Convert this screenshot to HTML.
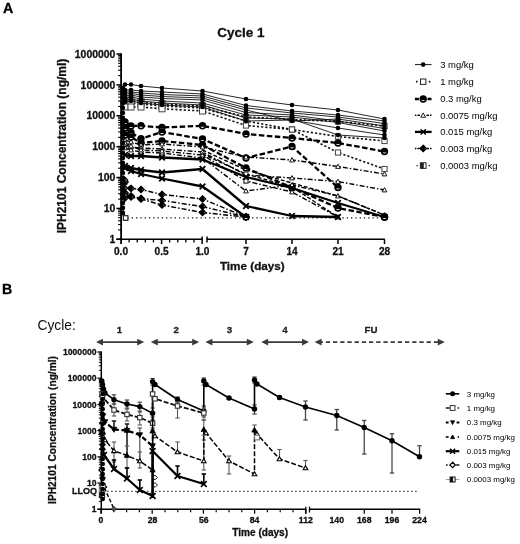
<!DOCTYPE html>
<html><head><meta charset="utf-8"><title>Figure</title><style>html,body{margin:0;padding:0;background:#fff}svg{display:block}</style></head><body>
<svg width="520" height="544" viewBox="0 0 520 544" font-family="Liberation Sans, Arial, Helvetica, sans-serif">
<rect width="520" height="544" fill="#fff"/>
<text x="2.9" y="13" font-size="14.2" font-weight="bold" text-anchor="start" fill="#000"  stroke="#000" stroke-width="0.3" stroke-linejoin="round">A</text>
<text x="241" y="36.8" font-size="13.5" font-weight="bold" text-anchor="middle" fill="#111"  stroke="#111" stroke-width="0.3" stroke-linejoin="round">Cycle 1</text>
<line x1="121.10" y1="53.30" x2="121.10" y2="243.90" stroke="#000" stroke-width="1.8" stroke-linecap="butt"/>
<line x1="116.40" y1="54.00" x2="121.10" y2="54.00" stroke="#000" stroke-width="1.5" stroke-linecap="butt"/>
<text x="115.3" y="57.7" font-size="10.4" font-weight="bold" text-anchor="end" fill="#111"  stroke="#111" stroke-width="0.3" stroke-linejoin="round">1000000</text>
<line x1="118.10" y1="75.59" x2="121.10" y2="75.59" stroke="#000" stroke-width="1.1" stroke-linecap="butt"/>
<line x1="118.10" y1="70.15" x2="121.10" y2="70.15" stroke="#000" stroke-width="1.1" stroke-linecap="butt"/>
<line x1="118.10" y1="66.29" x2="121.10" y2="66.29" stroke="#000" stroke-width="1.1" stroke-linecap="butt"/>
<line x1="118.10" y1="63.30" x2="121.10" y2="63.30" stroke="#000" stroke-width="1.1" stroke-linecap="butt"/>
<line x1="118.10" y1="60.85" x2="121.10" y2="60.85" stroke="#000" stroke-width="1.1" stroke-linecap="butt"/>
<line x1="118.10" y1="58.78" x2="121.10" y2="58.78" stroke="#000" stroke-width="1.1" stroke-linecap="butt"/>
<line x1="118.10" y1="56.99" x2="121.10" y2="56.99" stroke="#000" stroke-width="1.1" stroke-linecap="butt"/>
<line x1="118.10" y1="55.41" x2="121.10" y2="55.41" stroke="#000" stroke-width="1.1" stroke-linecap="butt"/>
<line x1="116.40" y1="84.88" x2="121.10" y2="84.88" stroke="#000" stroke-width="1.5" stroke-linecap="butt"/>
<text x="115.3" y="88.58333333333334" font-size="10.4" font-weight="bold" text-anchor="end" fill="#111"  stroke="#111" stroke-width="0.3" stroke-linejoin="round">100000</text>
<line x1="118.10" y1="106.47" x2="121.10" y2="106.47" stroke="#000" stroke-width="1.1" stroke-linecap="butt"/>
<line x1="118.10" y1="101.03" x2="121.10" y2="101.03" stroke="#000" stroke-width="1.1" stroke-linecap="butt"/>
<line x1="118.10" y1="97.17" x2="121.10" y2="97.17" stroke="#000" stroke-width="1.1" stroke-linecap="butt"/>
<line x1="118.10" y1="94.18" x2="121.10" y2="94.18" stroke="#000" stroke-width="1.1" stroke-linecap="butt"/>
<line x1="118.10" y1="91.73" x2="121.10" y2="91.73" stroke="#000" stroke-width="1.1" stroke-linecap="butt"/>
<line x1="118.10" y1="89.67" x2="121.10" y2="89.67" stroke="#000" stroke-width="1.1" stroke-linecap="butt"/>
<line x1="118.10" y1="87.88" x2="121.10" y2="87.88" stroke="#000" stroke-width="1.1" stroke-linecap="butt"/>
<line x1="118.10" y1="86.30" x2="121.10" y2="86.30" stroke="#000" stroke-width="1.1" stroke-linecap="butt"/>
<line x1="116.40" y1="115.77" x2="121.10" y2="115.77" stroke="#000" stroke-width="1.5" stroke-linecap="butt"/>
<text x="115.3" y="119.46666666666668" font-size="10.4" font-weight="bold" text-anchor="end" fill="#111"  stroke="#111" stroke-width="0.3" stroke-linejoin="round">10000</text>
<line x1="118.10" y1="137.35" x2="121.10" y2="137.35" stroke="#000" stroke-width="1.1" stroke-linecap="butt"/>
<line x1="118.10" y1="131.91" x2="121.10" y2="131.91" stroke="#000" stroke-width="1.1" stroke-linecap="butt"/>
<line x1="118.10" y1="128.06" x2="121.10" y2="128.06" stroke="#000" stroke-width="1.1" stroke-linecap="butt"/>
<line x1="118.10" y1="125.06" x2="121.10" y2="125.06" stroke="#000" stroke-width="1.1" stroke-linecap="butt"/>
<line x1="118.10" y1="122.62" x2="121.10" y2="122.62" stroke="#000" stroke-width="1.1" stroke-linecap="butt"/>
<line x1="118.10" y1="120.55" x2="121.10" y2="120.55" stroke="#000" stroke-width="1.1" stroke-linecap="butt"/>
<line x1="118.10" y1="118.76" x2="121.10" y2="118.76" stroke="#000" stroke-width="1.1" stroke-linecap="butt"/>
<line x1="118.10" y1="117.18" x2="121.10" y2="117.18" stroke="#000" stroke-width="1.1" stroke-linecap="butt"/>
<line x1="116.40" y1="146.65" x2="121.10" y2="146.65" stroke="#000" stroke-width="1.5" stroke-linecap="butt"/>
<text x="115.3" y="150.35" font-size="10.4" font-weight="bold" text-anchor="end" fill="#111"  stroke="#111" stroke-width="0.3" stroke-linejoin="round">1000</text>
<line x1="118.10" y1="168.24" x2="121.10" y2="168.24" stroke="#000" stroke-width="1.1" stroke-linecap="butt"/>
<line x1="118.10" y1="162.80" x2="121.10" y2="162.80" stroke="#000" stroke-width="1.1" stroke-linecap="butt"/>
<line x1="118.10" y1="158.94" x2="121.10" y2="158.94" stroke="#000" stroke-width="1.1" stroke-linecap="butt"/>
<line x1="118.10" y1="155.95" x2="121.10" y2="155.95" stroke="#000" stroke-width="1.1" stroke-linecap="butt"/>
<line x1="118.10" y1="153.50" x2="121.10" y2="153.50" stroke="#000" stroke-width="1.1" stroke-linecap="butt"/>
<line x1="118.10" y1="151.43" x2="121.10" y2="151.43" stroke="#000" stroke-width="1.1" stroke-linecap="butt"/>
<line x1="118.10" y1="149.64" x2="121.10" y2="149.64" stroke="#000" stroke-width="1.1" stroke-linecap="butt"/>
<line x1="118.10" y1="148.06" x2="121.10" y2="148.06" stroke="#000" stroke-width="1.1" stroke-linecap="butt"/>
<line x1="116.40" y1="177.53" x2="121.10" y2="177.53" stroke="#000" stroke-width="1.5" stroke-linecap="butt"/>
<text x="115.3" y="181.23333333333335" font-size="10.4" font-weight="bold" text-anchor="end" fill="#111"  stroke="#111" stroke-width="0.3" stroke-linejoin="round">100</text>
<line x1="118.10" y1="199.12" x2="121.10" y2="199.12" stroke="#000" stroke-width="1.1" stroke-linecap="butt"/>
<line x1="118.10" y1="193.68" x2="121.10" y2="193.68" stroke="#000" stroke-width="1.1" stroke-linecap="butt"/>
<line x1="118.10" y1="189.82" x2="121.10" y2="189.82" stroke="#000" stroke-width="1.1" stroke-linecap="butt"/>
<line x1="118.10" y1="186.83" x2="121.10" y2="186.83" stroke="#000" stroke-width="1.1" stroke-linecap="butt"/>
<line x1="118.10" y1="184.38" x2="121.10" y2="184.38" stroke="#000" stroke-width="1.1" stroke-linecap="butt"/>
<line x1="118.10" y1="182.32" x2="121.10" y2="182.32" stroke="#000" stroke-width="1.1" stroke-linecap="butt"/>
<line x1="118.10" y1="180.53" x2="121.10" y2="180.53" stroke="#000" stroke-width="1.1" stroke-linecap="butt"/>
<line x1="118.10" y1="178.95" x2="121.10" y2="178.95" stroke="#000" stroke-width="1.1" stroke-linecap="butt"/>
<line x1="116.40" y1="208.42" x2="121.10" y2="208.42" stroke="#000" stroke-width="1.5" stroke-linecap="butt"/>
<text x="115.3" y="212.11666666666667" font-size="10.4" font-weight="bold" text-anchor="end" fill="#111"  stroke="#111" stroke-width="0.3" stroke-linejoin="round">10</text>
<line x1="118.10" y1="230.00" x2="121.10" y2="230.00" stroke="#000" stroke-width="1.1" stroke-linecap="butt"/>
<line x1="118.10" y1="224.56" x2="121.10" y2="224.56" stroke="#000" stroke-width="1.1" stroke-linecap="butt"/>
<line x1="118.10" y1="220.71" x2="121.10" y2="220.71" stroke="#000" stroke-width="1.1" stroke-linecap="butt"/>
<line x1="118.10" y1="217.71" x2="121.10" y2="217.71" stroke="#000" stroke-width="1.1" stroke-linecap="butt"/>
<line x1="118.10" y1="215.27" x2="121.10" y2="215.27" stroke="#000" stroke-width="1.1" stroke-linecap="butt"/>
<line x1="118.10" y1="213.20" x2="121.10" y2="213.20" stroke="#000" stroke-width="1.1" stroke-linecap="butt"/>
<line x1="118.10" y1="211.41" x2="121.10" y2="211.41" stroke="#000" stroke-width="1.1" stroke-linecap="butt"/>
<line x1="118.10" y1="209.83" x2="121.10" y2="209.83" stroke="#000" stroke-width="1.1" stroke-linecap="butt"/>
<line x1="116.40" y1="239.30" x2="121.10" y2="239.30" stroke="#000" stroke-width="1.5" stroke-linecap="butt"/>
<text x="115.3" y="243.0" font-size="10.4" font-weight="bold" text-anchor="end" fill="#111"  stroke="#111" stroke-width="0.3" stroke-linejoin="round">1</text>
<text transform="translate(66,146) rotate(-90)" font-size="12" font-weight="bold" text-anchor="middle" fill="#111" stroke="#111" stroke-width="0.3">IPH2101 Concentration (ng/ml)</text>
<line x1="116.40" y1="239.30" x2="202.10" y2="239.30" stroke="#000" stroke-width="1.6" stroke-linecap="butt"/>
<line x1="207.00" y1="239.30" x2="384.90" y2="239.30" stroke="#000" stroke-width="1.6" stroke-linecap="butt"/>
<line x1="202.10" y1="236.50" x2="202.10" y2="243.90" stroke="#000" stroke-width="1.5" stroke-linecap="butt"/>
<line x1="207.00" y1="236.50" x2="207.00" y2="242.50" stroke="#000" stroke-width="1.5" stroke-linecap="butt"/>
<line x1="129.11" y1="239.30" x2="129.11" y2="242.40" stroke="#000" stroke-width="1.3" stroke-linecap="butt"/>
<line x1="137.22" y1="239.30" x2="137.22" y2="242.40" stroke="#000" stroke-width="1.3" stroke-linecap="butt"/>
<line x1="145.33" y1="239.30" x2="145.33" y2="242.40" stroke="#000" stroke-width="1.3" stroke-linecap="butt"/>
<line x1="153.44" y1="239.30" x2="153.44" y2="242.40" stroke="#000" stroke-width="1.3" stroke-linecap="butt"/>
<line x1="161.55" y1="239.30" x2="161.55" y2="244.10" stroke="#000" stroke-width="1.5" stroke-linecap="butt"/>
<line x1="169.66" y1="239.30" x2="169.66" y2="242.40" stroke="#000" stroke-width="1.3" stroke-linecap="butt"/>
<line x1="177.77" y1="239.30" x2="177.77" y2="242.40" stroke="#000" stroke-width="1.3" stroke-linecap="butt"/>
<line x1="185.88" y1="239.30" x2="185.88" y2="242.40" stroke="#000" stroke-width="1.3" stroke-linecap="butt"/>
<line x1="193.99" y1="239.30" x2="193.99" y2="242.40" stroke="#000" stroke-width="1.3" stroke-linecap="butt"/>
<line x1="246.00" y1="239.30" x2="246.00" y2="244.10" stroke="#000" stroke-width="1.5" stroke-linecap="butt"/>
<line x1="292.00" y1="239.30" x2="292.00" y2="244.10" stroke="#000" stroke-width="1.5" stroke-linecap="butt"/>
<line x1="338.00" y1="239.30" x2="338.00" y2="244.10" stroke="#000" stroke-width="1.5" stroke-linecap="butt"/>
<line x1="384.50" y1="239.30" x2="384.50" y2="244.10" stroke="#000" stroke-width="1.5" stroke-linecap="butt"/>
<text x="121" y="255" font-size="10.1" font-weight="bold" text-anchor="middle" fill="#111"  stroke="#111" stroke-width="0.3" stroke-linejoin="round">0.0</text>
<text x="161.6" y="255" font-size="10.1" font-weight="bold" text-anchor="middle" fill="#111"  stroke="#111" stroke-width="0.3" stroke-linejoin="round">0.5</text>
<text x="202.4" y="255" font-size="10.1" font-weight="bold" text-anchor="middle" fill="#111"  stroke="#111" stroke-width="0.3" stroke-linejoin="round">1.0</text>
<text x="246" y="255" font-size="10.1" font-weight="bold" text-anchor="middle" fill="#111"  stroke="#111" stroke-width="0.3" stroke-linejoin="round">7</text>
<text x="292" y="255" font-size="10.1" font-weight="bold" text-anchor="middle" fill="#111"  stroke="#111" stroke-width="0.3" stroke-linejoin="round">14</text>
<text x="338" y="255" font-size="10.1" font-weight="bold" text-anchor="middle" fill="#111"  stroke="#111" stroke-width="0.3" stroke-linejoin="round">21</text>
<text x="384.5" y="255" font-size="10.1" font-weight="bold" text-anchor="middle" fill="#111"  stroke="#111" stroke-width="0.3" stroke-linejoin="round">28</text>
<text x="252.3" y="270.3" font-size="11.7" font-weight="bold" text-anchor="middle" fill="#111"  stroke="#111" stroke-width="0.3" stroke-linejoin="round">Time (days)</text>
<line x1="123.10" y1="217.80" x2="384.00" y2="217.80" stroke="#111" stroke-width="1.3" stroke-dasharray="1.3 3" stroke-linecap="butt"/>
<polyline points="125.0,101.0 131.0,100.0 141.0,102.0 162.0,104.0 202.5,106.0 246.0,117.0 292.0,119.5 338.0,121.5 384.5,126.0" fill="none" stroke="#111" stroke-width="1.6" stroke-dasharray="2.2 2" stroke-linejoin="round"/>
<polyline points="125.0,104.0 131.0,103.0 141.0,104.0 162.0,106.0 202.5,108.0 246.0,121.0 292.0,129.5 338.0,136.5 384.5,141.0" fill="none" stroke="#111" stroke-width="1.6" stroke-dasharray="2.2 2" stroke-linejoin="round"/>
<polyline points="125.0,107.0 131.0,107.0 141.0,107.0 162.0,108.8 202.5,111.0 246.0,125.5 292.0,129.5 338.0,152.5 384.5,169.0" fill="none" stroke="#111" stroke-width="1.6" stroke-dasharray="2.2 2" stroke-linejoin="round"/>
<rect x="122.0" y="98.0" width="6" height="6" fill="#fff" stroke="#444" stroke-width="1"/>
<rect x="128.0" y="97.0" width="6" height="6" fill="#fff" stroke="#444" stroke-width="1"/>
<rect x="138.0" y="99.0" width="6" height="6" fill="#fff" stroke="#444" stroke-width="1"/>
<rect x="159.0" y="101.0" width="6" height="6" fill="#fff" stroke="#444" stroke-width="1"/>
<rect x="199.5" y="103.0" width="6" height="6" fill="#fff" stroke="#444" stroke-width="1"/>
<rect x="243.4" y="114.4" width="5.2" height="5.2" fill="#fff" stroke="#444" stroke-width="1"/>
<rect x="289.4" y="116.9" width="5.2" height="5.2" fill="#fff" stroke="#444" stroke-width="1"/>
<rect x="335.4" y="118.9" width="5.2" height="5.2" fill="#fff" stroke="#444" stroke-width="1"/>
<rect x="381.9" y="123.4" width="5.2" height="5.2" fill="#fff" stroke="#444" stroke-width="1"/>
<rect x="122.0" y="101.0" width="6" height="6" fill="#fff" stroke="#444" stroke-width="1"/>
<rect x="128.0" y="100.0" width="6" height="6" fill="#fff" stroke="#444" stroke-width="1"/>
<rect x="138.0" y="101.0" width="6" height="6" fill="#fff" stroke="#444" stroke-width="1"/>
<rect x="159.0" y="103.0" width="6" height="6" fill="#fff" stroke="#444" stroke-width="1"/>
<rect x="199.5" y="105.0" width="6" height="6" fill="#fff" stroke="#444" stroke-width="1"/>
<rect x="243.4" y="118.4" width="5.2" height="5.2" fill="#fff" stroke="#444" stroke-width="1"/>
<rect x="289.4" y="126.9" width="5.2" height="5.2" fill="#fff" stroke="#444" stroke-width="1"/>
<rect x="335.4" y="133.9" width="5.2" height="5.2" fill="#fff" stroke="#444" stroke-width="1"/>
<rect x="381.9" y="138.4" width="5.2" height="5.2" fill="#fff" stroke="#444" stroke-width="1"/>
<rect x="122.0" y="104.0" width="6" height="6" fill="#fff" stroke="#444" stroke-width="1"/>
<rect x="128.0" y="104.0" width="6" height="6" fill="#fff" stroke="#444" stroke-width="1"/>
<rect x="138.0" y="104.0" width="6" height="6" fill="#fff" stroke="#444" stroke-width="1"/>
<rect x="159.0" y="105.8" width="6" height="6" fill="#fff" stroke="#444" stroke-width="1"/>
<rect x="199.5" y="108.0" width="6" height="6" fill="#fff" stroke="#444" stroke-width="1"/>
<rect x="243.4" y="122.9" width="5.2" height="5.2" fill="#fff" stroke="#444" stroke-width="1"/>
<rect x="289.4" y="126.9" width="5.2" height="5.2" fill="#fff" stroke="#444" stroke-width="1"/>
<rect x="335.4" y="149.9" width="5.2" height="5.2" fill="#fff" stroke="#444" stroke-width="1"/>
<rect x="381.9" y="166.4" width="5.2" height="5.2" fill="#fff" stroke="#444" stroke-width="1"/>
<polyline points="121.5,92.5 125.0,84.5 131.0,84.5 141.0,86.0 162.0,88.0 202.5,91.0 246.0,99.0 292.0,105.0 338.0,110.0 384.5,119.0" fill="none" stroke="#111" stroke-width="0.9" stroke-linejoin="round"/>
<circle cx="125.0" cy="84.5" r="2.3" fill="#000"/>
<circle cx="131.0" cy="84.5" r="2.3" fill="#000"/>
<circle cx="141.0" cy="86.0" r="2.3" fill="#000"/>
<circle cx="162.0" cy="88.0" r="2.3" fill="#000"/>
<circle cx="202.5" cy="91.0" r="2.3" fill="#000"/>
<circle cx="246.0" cy="99.0" r="2.3" fill="#000"/>
<circle cx="292.0" cy="105.0" r="2.3" fill="#000"/>
<circle cx="338.0" cy="110.0" r="2.3" fill="#000"/>
<circle cx="384.5" cy="119.0" r="2.3" fill="#000"/>
<polyline points="121.5,98.0 125.0,90.0 131.0,90.0 141.0,91.0 162.0,92.0 202.5,94.0 246.0,105.5 292.0,111.0 338.0,115.0 384.5,121.0" fill="none" stroke="#111" stroke-width="0.9" stroke-linejoin="round"/>
<circle cx="125.0" cy="90.0" r="2.3" fill="#000"/>
<circle cx="131.0" cy="90.0" r="2.3" fill="#000"/>
<circle cx="141.0" cy="91.0" r="2.3" fill="#000"/>
<circle cx="162.0" cy="92.0" r="2.3" fill="#000"/>
<circle cx="202.5" cy="94.0" r="2.3" fill="#000"/>
<circle cx="246.0" cy="105.5" r="2.3" fill="#000"/>
<circle cx="292.0" cy="111.0" r="2.3" fill="#000"/>
<circle cx="338.0" cy="115.0" r="2.3" fill="#000"/>
<circle cx="384.5" cy="121.0" r="2.3" fill="#000"/>
<polyline points="121.5,100.0 125.0,92.0 131.0,92.0 141.0,93.0 162.0,94.5 202.5,96.0 246.0,108.0 292.0,113.0 338.0,117.0 384.5,123.5" fill="none" stroke="#111" stroke-width="0.9" stroke-linejoin="round"/>
<circle cx="125.0" cy="92.0" r="2.3" fill="#000"/>
<circle cx="131.0" cy="92.0" r="2.3" fill="#000"/>
<circle cx="141.0" cy="93.0" r="2.3" fill="#000"/>
<circle cx="162.0" cy="94.5" r="2.3" fill="#000"/>
<circle cx="202.5" cy="96.0" r="2.3" fill="#000"/>
<circle cx="246.0" cy="108.0" r="2.3" fill="#000"/>
<circle cx="292.0" cy="113.0" r="2.3" fill="#000"/>
<circle cx="338.0" cy="117.0" r="2.3" fill="#000"/>
<circle cx="384.5" cy="123.5" r="2.3" fill="#000"/>
<polyline points="121.5,102.0 125.0,94.0 131.0,93.5 141.0,95.0 162.0,96.5 202.5,98.0 246.0,110.0 292.0,121.0 338.0,119.0 384.5,126.0" fill="none" stroke="#111" stroke-width="0.9" stroke-linejoin="round"/>
<circle cx="125.0" cy="94.0" r="2.3" fill="#000"/>
<circle cx="131.0" cy="93.5" r="2.3" fill="#000"/>
<circle cx="141.0" cy="95.0" r="2.3" fill="#000"/>
<circle cx="162.0" cy="96.5" r="2.3" fill="#000"/>
<circle cx="202.5" cy="98.0" r="2.3" fill="#000"/>
<circle cx="246.0" cy="110.0" r="2.3" fill="#000"/>
<circle cx="292.0" cy="121.0" r="2.3" fill="#000"/>
<circle cx="338.0" cy="119.0" r="2.3" fill="#000"/>
<circle cx="384.5" cy="126.0" r="2.3" fill="#000"/>
<polyline points="121.5,104.0 125.0,96.0 131.0,95.0 141.0,97.0 162.0,98.5 202.5,100.0 246.0,112.5 292.0,115.0 338.0,121.0 384.5,128.5" fill="none" stroke="#111" stroke-width="0.9" stroke-linejoin="round"/>
<circle cx="125.0" cy="96.0" r="2.3" fill="#000"/>
<circle cx="131.0" cy="95.0" r="2.3" fill="#000"/>
<circle cx="141.0" cy="97.0" r="2.3" fill="#000"/>
<circle cx="162.0" cy="98.5" r="2.3" fill="#000"/>
<circle cx="202.5" cy="100.0" r="2.3" fill="#000"/>
<circle cx="246.0" cy="112.5" r="2.3" fill="#000"/>
<circle cx="292.0" cy="115.0" r="2.3" fill="#000"/>
<circle cx="338.0" cy="121.0" r="2.3" fill="#000"/>
<circle cx="384.5" cy="128.5" r="2.3" fill="#000"/>
<polyline points="121.5,106.0 125.0,98.0 131.0,97.0 141.0,99.0 162.0,101.0 202.5,103.0 246.0,115.0 292.0,117.0 338.0,122.5 384.5,131.0" fill="none" stroke="#111" stroke-width="0.9" stroke-linejoin="round"/>
<circle cx="125.0" cy="98.0" r="2.3" fill="#000"/>
<circle cx="131.0" cy="97.0" r="2.3" fill="#000"/>
<circle cx="141.0" cy="99.0" r="2.3" fill="#000"/>
<circle cx="162.0" cy="101.0" r="2.3" fill="#000"/>
<circle cx="202.5" cy="103.0" r="2.3" fill="#000"/>
<circle cx="246.0" cy="115.0" r="2.3" fill="#000"/>
<circle cx="292.0" cy="117.0" r="2.3" fill="#000"/>
<circle cx="338.0" cy="122.5" r="2.3" fill="#000"/>
<circle cx="384.5" cy="131.0" r="2.3" fill="#000"/>
<polyline points="121.5,108.0 125.0,100.0 131.0,99.0 141.0,101.0 162.0,103.0 202.5,105.0 246.0,118.0 292.0,119.0 338.0,135.0 384.5,138.0" fill="none" stroke="#111" stroke-width="0.9" stroke-linejoin="round"/>
<circle cx="125.0" cy="100.0" r="2.3" fill="#000"/>
<circle cx="131.0" cy="99.0" r="2.3" fill="#000"/>
<circle cx="141.0" cy="101.0" r="2.3" fill="#000"/>
<circle cx="162.0" cy="103.0" r="2.3" fill="#000"/>
<circle cx="202.5" cy="105.0" r="2.3" fill="#000"/>
<circle cx="246.0" cy="118.0" r="2.3" fill="#000"/>
<circle cx="292.0" cy="119.0" r="2.3" fill="#000"/>
<circle cx="338.0" cy="135.0" r="2.3" fill="#000"/>
<circle cx="384.5" cy="138.0" r="2.3" fill="#000"/>
<polyline points="121.5,110.0 125.0,102.0 131.0,101.0 141.0,103.0 162.0,105.0 202.5,107.0 246.0,121.0 292.0,120.0 338.0,128.0 384.5,135.0" fill="none" stroke="#111" stroke-width="0.9" stroke-linejoin="round"/>
<circle cx="125.0" cy="102.0" r="2.3" fill="#000"/>
<circle cx="131.0" cy="101.0" r="2.3" fill="#000"/>
<circle cx="141.0" cy="103.0" r="2.3" fill="#000"/>
<circle cx="162.0" cy="105.0" r="2.3" fill="#000"/>
<circle cx="202.5" cy="107.0" r="2.3" fill="#000"/>
<circle cx="246.0" cy="121.0" r="2.3" fill="#000"/>
<circle cx="292.0" cy="120.0" r="2.3" fill="#000"/>
<circle cx="338.0" cy="128.0" r="2.3" fill="#000"/>
<circle cx="384.5" cy="135.0" r="2.3" fill="#000"/>
<polyline points="125.0,122.0 131.0,126.0 141.0,125.8 162.0,127.5 202.5,125.8 246.0,134.0 292.0,138.0 338.0,143.0 384.5,151.5" fill="none" stroke="#000" stroke-width="2.3" stroke-dasharray="5.5 2.5" stroke-linejoin="round"/>
<polyline points="125.0,128.0 131.0,132.5 141.0,138.8 162.0,132.0 202.5,139.0 246.0,158.0 292.0,146.5 338.0,187.5" fill="none" stroke="#000" stroke-width="2.3" stroke-dasharray="5.5 2.5" stroke-linejoin="round"/>
<polyline points="125.0,135.0 131.0,137.0 141.0,143.0 162.0,141.0 202.5,145.0 246.0,168.0 292.0,187.5 338.0,208.0 384.5,217.0" fill="none" stroke="#000" stroke-width="2.3" stroke-dasharray="5.5 2.5" stroke-linejoin="round"/>
<circle cx="125.0" cy="122.0" r="2.9" fill="#fff" stroke="#000" stroke-width="1.6"/>
<path d="M122.1,123.0 L122.1,122.0 A2.9,2.9 0 0 1 127.9,122.0 L127.9,123.0 Z" fill="#000"/>
<circle cx="131.0" cy="126.0" r="2.9" fill="#fff" stroke="#000" stroke-width="1.6"/>
<path d="M128.1,127.0 L128.1,126.0 A2.9,2.9 0 0 1 133.9,126.0 L133.9,127.0 Z" fill="#000"/>
<circle cx="141.0" cy="125.8" r="2.9" fill="#fff" stroke="#000" stroke-width="1.6"/>
<path d="M138.1,126.8 L138.1,125.8 A2.9,2.9 0 0 1 143.9,125.8 L143.9,126.8 Z" fill="#000"/>
<circle cx="162.0" cy="127.5" r="2.9" fill="#fff" stroke="#000" stroke-width="1.6"/>
<path d="M159.1,128.5 L159.1,127.5 A2.9,2.9 0 0 1 164.9,127.5 L164.9,128.5 Z" fill="#000"/>
<circle cx="202.5" cy="125.8" r="2.9" fill="#fff" stroke="#000" stroke-width="1.6"/>
<path d="M199.6,126.8 L199.6,125.8 A2.9,2.9 0 0 1 205.4,125.8 L205.4,126.8 Z" fill="#000"/>
<circle cx="246.0" cy="134.0" r="2.9" fill="#fff" stroke="#000" stroke-width="1.6"/>
<path d="M243.1,135.0 L243.1,134.0 A2.9,2.9 0 0 1 248.9,134.0 L248.9,135.0 Z" fill="#000"/>
<circle cx="292.0" cy="138.0" r="2.9" fill="#fff" stroke="#000" stroke-width="1.6"/>
<path d="M289.1,139.0 L289.1,138.0 A2.9,2.9 0 0 1 294.9,138.0 L294.9,139.0 Z" fill="#000"/>
<circle cx="338.0" cy="143.0" r="2.9" fill="#fff" stroke="#000" stroke-width="1.6"/>
<path d="M335.1,144.0 L335.1,143.0 A2.9,2.9 0 0 1 340.9,143.0 L340.9,144.0 Z" fill="#000"/>
<circle cx="384.5" cy="151.5" r="2.9" fill="#fff" stroke="#000" stroke-width="1.6"/>
<path d="M381.6,152.5 L381.6,151.5 A2.9,2.9 0 0 1 387.4,151.5 L387.4,152.5 Z" fill="#000"/>
<circle cx="125.0" cy="128.0" r="2.9" fill="#fff" stroke="#000" stroke-width="1.6"/>
<path d="M122.1,129.0 L122.1,128.0 A2.9,2.9 0 0 1 127.9,128.0 L127.9,129.0 Z" fill="#000"/>
<circle cx="131.0" cy="132.5" r="2.9" fill="#fff" stroke="#000" stroke-width="1.6"/>
<path d="M128.1,133.5 L128.1,132.5 A2.9,2.9 0 0 1 133.9,132.5 L133.9,133.5 Z" fill="#000"/>
<circle cx="141.0" cy="138.8" r="2.9" fill="#fff" stroke="#000" stroke-width="1.6"/>
<path d="M138.1,139.8 L138.1,138.8 A2.9,2.9 0 0 1 143.9,138.8 L143.9,139.8 Z" fill="#000"/>
<circle cx="162.0" cy="132.0" r="2.9" fill="#fff" stroke="#000" stroke-width="1.6"/>
<path d="M159.1,133.0 L159.1,132.0 A2.9,2.9 0 0 1 164.9,132.0 L164.9,133.0 Z" fill="#000"/>
<circle cx="202.5" cy="139.0" r="2.9" fill="#fff" stroke="#000" stroke-width="1.6"/>
<path d="M199.6,140.0 L199.6,139.0 A2.9,2.9 0 0 1 205.4,139.0 L205.4,140.0 Z" fill="#000"/>
<circle cx="246.0" cy="158.0" r="2.9" fill="#fff" stroke="#000" stroke-width="1.6"/>
<path d="M243.1,159.0 L243.1,158.0 A2.9,2.9 0 0 1 248.9,158.0 L248.9,159.0 Z" fill="#000"/>
<circle cx="292.0" cy="146.5" r="2.9" fill="#fff" stroke="#000" stroke-width="1.6"/>
<path d="M289.1,147.5 L289.1,146.5 A2.9,2.9 0 0 1 294.9,146.5 L294.9,147.5 Z" fill="#000"/>
<circle cx="338.0" cy="187.5" r="2.9" fill="#fff" stroke="#000" stroke-width="1.6"/>
<path d="M335.1,188.5 L335.1,187.5 A2.9,2.9 0 0 1 340.9,187.5 L340.9,188.5 Z" fill="#000"/>
<circle cx="125.0" cy="135.0" r="2.9" fill="#fff" stroke="#000" stroke-width="1.6"/>
<path d="M122.1,136.0 L122.1,135.0 A2.9,2.9 0 0 1 127.9,135.0 L127.9,136.0 Z" fill="#000"/>
<circle cx="131.0" cy="137.0" r="2.9" fill="#fff" stroke="#000" stroke-width="1.6"/>
<path d="M128.1,138.0 L128.1,137.0 A2.9,2.9 0 0 1 133.9,137.0 L133.9,138.0 Z" fill="#000"/>
<circle cx="141.0" cy="143.0" r="2.9" fill="#fff" stroke="#000" stroke-width="1.6"/>
<path d="M138.1,144.0 L138.1,143.0 A2.9,2.9 0 0 1 143.9,143.0 L143.9,144.0 Z" fill="#000"/>
<circle cx="162.0" cy="141.0" r="2.9" fill="#fff" stroke="#000" stroke-width="1.6"/>
<path d="M159.1,142.0 L159.1,141.0 A2.9,2.9 0 0 1 164.9,141.0 L164.9,142.0 Z" fill="#000"/>
<circle cx="202.5" cy="145.0" r="2.9" fill="#fff" stroke="#000" stroke-width="1.6"/>
<path d="M199.6,146.0 L199.6,145.0 A2.9,2.9 0 0 1 205.4,145.0 L205.4,146.0 Z" fill="#000"/>
<circle cx="246.0" cy="168.0" r="2.9" fill="#fff" stroke="#000" stroke-width="1.6"/>
<path d="M243.1,169.0 L243.1,168.0 A2.9,2.9 0 0 1 248.9,168.0 L248.9,169.0 Z" fill="#000"/>
<circle cx="292.0" cy="187.5" r="2.9" fill="#fff" stroke="#000" stroke-width="1.6"/>
<path d="M289.1,188.5 L289.1,187.5 A2.9,2.9 0 0 1 294.9,187.5 L294.9,188.5 Z" fill="#000"/>
<circle cx="338.0" cy="208.0" r="2.9" fill="#fff" stroke="#000" stroke-width="1.6"/>
<path d="M335.1,209.0 L335.1,208.0 A2.9,2.9 0 0 1 340.9,208.0 L340.9,209.0 Z" fill="#000"/>
<circle cx="384.5" cy="217.0" r="2.9" fill="#fff" stroke="#000" stroke-width="1.6"/>
<path d="M381.6,218.0 L381.6,217.0 A2.9,2.9 0 0 1 387.4,217.0 L387.4,218.0 Z" fill="#000"/>
<polyline points="125.0,140.0 131.0,142.0 141.0,145.0 162.0,144.0 202.5,147.0 246.0,157.0 292.0,160.0 338.0,166.5 384.5,174.0" fill="none" stroke="#000" stroke-width="1.4" stroke-dasharray="5 2 1.5 2" stroke-linejoin="round"/>
<path d="M125.0,137.6 L127.4,141.9 L122.6,141.9 Z" fill="#fff" stroke="#000" stroke-width="0.9"/>
<path d="M131.0,139.6 L133.4,143.9 L128.6,143.9 Z" fill="#fff" stroke="#000" stroke-width="0.9"/>
<path d="M141.0,142.6 L143.4,146.9 L138.6,146.9 Z" fill="#fff" stroke="#000" stroke-width="0.9"/>
<path d="M162.0,141.6 L164.4,145.9 L159.6,145.9 Z" fill="#fff" stroke="#000" stroke-width="0.9"/>
<path d="M202.5,144.6 L204.9,148.9 L200.1,148.9 Z" fill="#fff" stroke="#000" stroke-width="0.9"/>
<path d="M246.0,154.6 L248.4,158.9 L243.6,158.9 Z" fill="#fff" stroke="#000" stroke-width="0.9"/>
<path d="M292.0,157.6 L294.4,161.9 L289.6,161.9 Z" fill="#fff" stroke="#000" stroke-width="0.9"/>
<path d="M338.0,164.1 L340.4,168.4 L335.6,168.4 Z" fill="#fff" stroke="#000" stroke-width="0.9"/>
<path d="M384.5,171.6 L386.9,175.9 L382.1,175.9 Z" fill="#fff" stroke="#000" stroke-width="0.9"/>
<polyline points="125.0,145.0 131.0,147.0 141.0,148.0 162.0,149.0 202.5,152.0 246.0,175.0 292.0,178.0 338.0,181.5 384.5,190.0" fill="none" stroke="#000" stroke-width="1.4" stroke-dasharray="5 2 1.5 2" stroke-linejoin="round"/>
<path d="M125.0,142.6 L127.4,146.9 L122.6,146.9 Z" fill="#fff" stroke="#000" stroke-width="0.9"/>
<path d="M131.0,144.6 L133.4,148.9 L128.6,148.9 Z" fill="#fff" stroke="#000" stroke-width="0.9"/>
<path d="M141.0,145.6 L143.4,149.9 L138.6,149.9 Z" fill="#fff" stroke="#000" stroke-width="0.9"/>
<path d="M162.0,146.6 L164.4,150.9 L159.6,150.9 Z" fill="#fff" stroke="#000" stroke-width="0.9"/>
<path d="M202.5,149.6 L204.9,153.9 L200.1,153.9 Z" fill="#fff" stroke="#000" stroke-width="0.9"/>
<path d="M246.0,172.6 L248.4,176.9 L243.6,176.9 Z" fill="#fff" stroke="#000" stroke-width="0.9"/>
<path d="M292.0,175.6 L294.4,179.9 L289.6,179.9 Z" fill="#fff" stroke="#000" stroke-width="0.9"/>
<path d="M338.0,179.1 L340.4,183.4 L335.6,183.4 Z" fill="#fff" stroke="#000" stroke-width="0.9"/>
<path d="M384.5,187.6 L386.9,191.9 L382.1,191.9 Z" fill="#fff" stroke="#000" stroke-width="0.9"/>
<polyline points="125.0,148.0 131.0,150.0 141.0,152.0 162.0,153.0 202.5,158.0 246.0,191.0 292.0,185.0 338.0,196.0 384.5,215.0" fill="none" stroke="#000" stroke-width="1.4" stroke-dasharray="5 2 1.5 2" stroke-linejoin="round"/>
<path d="M125.0,145.6 L127.4,149.9 L122.6,149.9 Z" fill="#fff" stroke="#000" stroke-width="0.9"/>
<path d="M131.0,147.6 L133.4,151.9 L128.6,151.9 Z" fill="#fff" stroke="#000" stroke-width="0.9"/>
<path d="M141.0,149.6 L143.4,153.9 L138.6,153.9 Z" fill="#fff" stroke="#000" stroke-width="0.9"/>
<path d="M162.0,150.6 L164.4,154.9 L159.6,154.9 Z" fill="#fff" stroke="#000" stroke-width="0.9"/>
<path d="M202.5,155.6 L204.9,159.9 L200.1,159.9 Z" fill="#fff" stroke="#000" stroke-width="0.9"/>
<path d="M246.0,188.6 L248.4,192.9 L243.6,192.9 Z" fill="#fff" stroke="#000" stroke-width="0.9"/>
<path d="M292.0,182.6 L294.4,186.9 L289.6,186.9 Z" fill="#fff" stroke="#000" stroke-width="0.9"/>
<path d="M338.0,193.6 L340.4,197.9 L335.6,197.9 Z" fill="#fff" stroke="#000" stroke-width="0.9"/>
<path d="M384.5,212.6 L386.9,216.9 L382.1,216.9 Z" fill="#fff" stroke="#000" stroke-width="0.9"/>
<polyline points="125.0,143.0 131.0,146.0 141.0,150.0 162.0,151.0 202.5,155.0 246.0,181.0 292.0,192.0 338.0,217.0" fill="none" stroke="#000" stroke-width="1.4" stroke-dasharray="5 2 1.5 2" stroke-linejoin="round"/>
<path d="M125.0,140.6 L127.4,144.9 L122.6,144.9 Z" fill="#fff" stroke="#000" stroke-width="0.9"/>
<path d="M131.0,143.6 L133.4,147.9 L128.6,147.9 Z" fill="#fff" stroke="#000" stroke-width="0.9"/>
<path d="M141.0,147.6 L143.4,151.9 L138.6,151.9 Z" fill="#fff" stroke="#000" stroke-width="0.9"/>
<path d="M162.0,148.6 L164.4,152.9 L159.6,152.9 Z" fill="#fff" stroke="#000" stroke-width="0.9"/>
<path d="M202.5,152.6 L204.9,156.9 L200.1,156.9 Z" fill="#fff" stroke="#000" stroke-width="0.9"/>
<path d="M246.0,178.6 L248.4,182.9 L243.6,182.9 Z" fill="#fff" stroke="#000" stroke-width="0.9"/>
<path d="M292.0,189.6 L294.4,193.9 L289.6,193.9 Z" fill="#fff" stroke="#000" stroke-width="0.9"/>
<path d="M338.0,214.6 L340.4,218.9 L335.6,218.9 Z" fill="#fff" stroke="#000" stroke-width="0.9"/>
<polyline points="202.5,150.0 246.0,170.0 292.0,183.0 338.0,196.0 384.5,215.0" fill="none" stroke="#000" stroke-width="1.4" stroke-dasharray="4 2" stroke-linejoin="round"/>
<polyline points="202.5,154.0 246.0,174.0 292.0,187.0 338.0,217.0" fill="none" stroke="#000" stroke-width="1.4" stroke-dasharray="4 2" stroke-linejoin="round"/>
<rect x="244.0" y="172.0" width="4" height="4" fill="#fff" stroke="#333" stroke-width="1"/>
<rect x="244.0" y="179.0" width="4" height="4" fill="#fff" stroke="#333" stroke-width="1"/>
<polyline points="122.0,153.0 125.0,155.0 131.0,156.0 141.0,156.0 162.0,157.5 202.5,159.5 246.0,177.0 292.0,188.0 338.0,203.0 384.5,217.0" fill="none" stroke="#000" stroke-width="2.3" stroke-linejoin="round"/>
<path d="M122.2,152.2 L127.8,157.8 M122.2,157.8 L127.8,152.2" stroke="#000" stroke-width="1.8" fill="none"/>
<path d="M128.2,153.2 L133.8,158.8 M128.2,158.8 L133.8,153.2" stroke="#000" stroke-width="1.8" fill="none"/>
<path d="M138.2,153.2 L143.8,158.8 M138.2,158.8 L143.8,153.2" stroke="#000" stroke-width="1.8" fill="none"/>
<path d="M159.2,154.7 L164.8,160.3 M159.2,160.3 L164.8,154.7" stroke="#000" stroke-width="1.8" fill="none"/>
<path d="M199.7,156.7 L205.3,162.3 M199.7,162.3 L205.3,156.7" stroke="#000" stroke-width="1.8" fill="none"/>
<path d="M243.2,174.2 L248.8,179.8 M243.2,179.8 L248.8,174.2" stroke="#000" stroke-width="1.8" fill="none"/>
<path d="M289.2,185.2 L294.8,190.8 M289.2,190.8 L294.8,185.2" stroke="#000" stroke-width="1.8" fill="none"/>
<path d="M335.2,200.2 L340.8,205.8 M335.2,205.8 L340.8,200.2" stroke="#000" stroke-width="1.8" fill="none"/>
<path d="M381.7,214.2 L387.3,219.8 M381.7,219.8 L387.3,214.2" stroke="#000" stroke-width="1.8" fill="none"/>
<polyline points="122.0,164.0 125.0,166.0 131.0,168.0 141.0,170.0 162.0,172.5 202.5,169.0 246.0,206.0 292.0,216.0 338.0,217.0" fill="none" stroke="#000" stroke-width="2.3" stroke-linejoin="round"/>
<path d="M122.2,163.2 L127.8,168.8 M122.2,168.8 L127.8,163.2" stroke="#000" stroke-width="1.8" fill="none"/>
<path d="M128.2,165.2 L133.8,170.8 M128.2,170.8 L133.8,165.2" stroke="#000" stroke-width="1.8" fill="none"/>
<path d="M138.2,167.2 L143.8,172.8 M138.2,172.8 L143.8,167.2" stroke="#000" stroke-width="1.8" fill="none"/>
<path d="M159.2,169.7 L164.8,175.3 M159.2,175.3 L164.8,169.7" stroke="#000" stroke-width="1.8" fill="none"/>
<path d="M199.7,166.2 L205.3,171.8 M199.7,171.8 L205.3,166.2" stroke="#000" stroke-width="1.8" fill="none"/>
<path d="M243.2,203.2 L248.8,208.8 M243.2,208.8 L248.8,203.2" stroke="#000" stroke-width="1.8" fill="none"/>
<path d="M289.2,213.2 L294.8,218.8 M289.2,218.8 L294.8,213.2" stroke="#000" stroke-width="1.8" fill="none"/>
<path d="M335.2,214.2 L340.8,219.8 M335.2,219.8 L340.8,214.2" stroke="#000" stroke-width="1.8" fill="none"/>
<polyline points="122.0,166.0 125.0,168.0 131.0,171.0 141.0,174.0 162.0,178.5 202.5,186.5 246.0,217.0" fill="none" stroke="#000" stroke-width="2.3" stroke-linejoin="round"/>
<path d="M122.2,165.2 L127.8,170.8 M122.2,170.8 L127.8,165.2" stroke="#000" stroke-width="1.8" fill="none"/>
<path d="M128.2,168.2 L133.8,173.8 M128.2,173.8 L133.8,168.2" stroke="#000" stroke-width="1.8" fill="none"/>
<path d="M138.2,171.2 L143.8,176.8 M138.2,176.8 L143.8,171.2" stroke="#000" stroke-width="1.8" fill="none"/>
<path d="M159.2,175.7 L164.8,181.3 M159.2,181.3 L164.8,175.7" stroke="#000" stroke-width="1.8" fill="none"/>
<path d="M199.7,183.7 L205.3,189.3 M199.7,189.3 L205.3,183.7" stroke="#000" stroke-width="1.8" fill="none"/>
<path d="M243.2,214.2 L248.8,219.8 M243.2,219.8 L248.8,214.2" stroke="#000" stroke-width="1.8" fill="none"/>
<polyline points="122.0,178.0 125.0,182.0 131.0,188.5 141.0,189.5 162.0,194.5 202.5,199.0 246.0,217.0" fill="none" stroke="#000" stroke-width="1.5" stroke-dasharray="5 2 1.5 2" stroke-linejoin="round"/>
<path d="M125.0,178.8 L128.2,182.0 L125.0,185.2 L121.8,182.0 Z" fill="#fff" stroke="#000" stroke-width="1.3"/>
<path d="M126.7,180.5 L126.7,183.5 L125.0,185.2 L121.8,182.0 L125.0,178.8 Z" fill="#000"/>
<path d="M131.0,185.3 L134.2,188.5 L131.0,191.7 L127.8,188.5 Z" fill="#fff" stroke="#000" stroke-width="1.3"/>
<path d="M132.7,187.0 L132.7,190.0 L131.0,191.7 L127.8,188.5 L131.0,185.3 Z" fill="#000"/>
<path d="M141.0,186.3 L144.2,189.5 L141.0,192.7 L137.8,189.5 Z" fill="#fff" stroke="#000" stroke-width="1.3"/>
<path d="M142.7,188.0 L142.7,191.0 L141.0,192.7 L137.8,189.5 L141.0,186.3 Z" fill="#000"/>
<path d="M162.0,191.3 L165.2,194.5 L162.0,197.7 L158.8,194.5 Z" fill="#fff" stroke="#000" stroke-width="1.3"/>
<path d="M163.7,193.0 L163.7,196.0 L162.0,197.7 L158.8,194.5 L162.0,191.3 Z" fill="#000"/>
<path d="M202.5,195.8 L205.7,199.0 L202.5,202.2 L199.3,199.0 Z" fill="#fff" stroke="#000" stroke-width="1.3"/>
<path d="M204.2,197.5 L204.2,200.5 L202.5,202.2 L199.3,199.0 L202.5,195.8 Z" fill="#000"/>
<path d="M246.0,213.8 L249.2,217.0 L246.0,220.2 L242.8,217.0 Z" fill="#fff" stroke="#000" stroke-width="1.3"/>
<path d="M247.7,215.5 L247.7,218.5 L246.0,220.2 L242.8,217.0 L246.0,213.8 Z" fill="#000"/>
<polyline points="122.0,189.0 125.0,193.0 131.0,196.0 141.0,198.5 162.0,200.5 202.5,206.5 246.0,217.0" fill="none" stroke="#000" stroke-width="1.5" stroke-dasharray="5 2 1.5 2" stroke-linejoin="round"/>
<path d="M125.0,189.8 L128.2,193.0 L125.0,196.2 L121.8,193.0 Z" fill="#fff" stroke="#000" stroke-width="1.3"/>
<path d="M126.7,191.5 L126.7,194.5 L125.0,196.2 L121.8,193.0 L125.0,189.8 Z" fill="#000"/>
<path d="M131.0,192.8 L134.2,196.0 L131.0,199.2 L127.8,196.0 Z" fill="#fff" stroke="#000" stroke-width="1.3"/>
<path d="M132.7,194.5 L132.7,197.5 L131.0,199.2 L127.8,196.0 L131.0,192.8 Z" fill="#000"/>
<path d="M141.0,195.3 L144.2,198.5 L141.0,201.7 L137.8,198.5 Z" fill="#fff" stroke="#000" stroke-width="1.3"/>
<path d="M142.7,197.0 L142.7,200.0 L141.0,201.7 L137.8,198.5 L141.0,195.3 Z" fill="#000"/>
<path d="M162.0,197.3 L165.2,200.5 L162.0,203.7 L158.8,200.5 Z" fill="#fff" stroke="#000" stroke-width="1.3"/>
<path d="M163.7,199.0 L163.7,202.0 L162.0,203.7 L158.8,200.5 L162.0,197.3 Z" fill="#000"/>
<path d="M202.5,203.3 L205.7,206.5 L202.5,209.7 L199.3,206.5 Z" fill="#fff" stroke="#000" stroke-width="1.3"/>
<path d="M204.2,205.0 L204.2,208.0 L202.5,209.7 L199.3,206.5 L202.5,203.3 Z" fill="#000"/>
<path d="M246.0,213.8 L249.2,217.0 L246.0,220.2 L242.8,217.0 Z" fill="#fff" stroke="#000" stroke-width="1.3"/>
<path d="M247.7,215.5 L247.7,218.5 L246.0,220.2 L242.8,217.0 L246.0,213.8 Z" fill="#000"/>
<polyline points="122.0,194.0 125.0,198.0 131.0,197.0 141.0,199.0 162.0,205.0 202.5,212.5 246.0,217.0" fill="none" stroke="#000" stroke-width="1.5" stroke-dasharray="5 2 1.5 2" stroke-linejoin="round"/>
<path d="M125.0,194.8 L128.2,198.0 L125.0,201.2 L121.8,198.0 Z" fill="#fff" stroke="#000" stroke-width="1.3"/>
<path d="M126.7,196.5 L126.7,199.5 L125.0,201.2 L121.8,198.0 L125.0,194.8 Z" fill="#000"/>
<path d="M131.0,193.8 L134.2,197.0 L131.0,200.2 L127.8,197.0 Z" fill="#fff" stroke="#000" stroke-width="1.3"/>
<path d="M132.7,195.5 L132.7,198.5 L131.0,200.2 L127.8,197.0 L131.0,193.8 Z" fill="#000"/>
<path d="M141.0,195.8 L144.2,199.0 L141.0,202.2 L137.8,199.0 Z" fill="#fff" stroke="#000" stroke-width="1.3"/>
<path d="M142.7,197.5 L142.7,200.5 L141.0,202.2 L137.8,199.0 L141.0,195.8 Z" fill="#000"/>
<path d="M162.0,201.8 L165.2,205.0 L162.0,208.2 L158.8,205.0 Z" fill="#fff" stroke="#000" stroke-width="1.3"/>
<path d="M163.7,203.5 L163.7,206.5 L162.0,208.2 L158.8,205.0 L162.0,201.8 Z" fill="#000"/>
<path d="M202.5,209.3 L205.7,212.5 L202.5,215.7 L199.3,212.5 Z" fill="#fff" stroke="#000" stroke-width="1.3"/>
<path d="M204.2,211.0 L204.2,214.0 L202.5,215.7 L199.3,212.5 L202.5,209.3 Z" fill="#000"/>
<path d="M246.0,213.8 L249.2,217.0 L246.0,220.2 L242.8,217.0 Z" fill="#fff" stroke="#000" stroke-width="1.3"/>
<path d="M247.7,215.5 L247.7,218.5 L246.0,220.2 L242.8,217.0 L246.0,213.8 Z" fill="#000"/>
<polyline points="122.0,207.0 125.0,217.0" fill="none" stroke="#000" stroke-width="1.2" stroke-dasharray="1.5 2" stroke-linejoin="round"/>
<rect x="123.3" y="215.7" width="4.6" height="4.6" fill="#fff" stroke="#111" stroke-width="1.1"/>
<path d="M384.5,214.0 L387.5,217.0 L384.5,220.0 L381.5,217.0 Z" fill="#fff" stroke="#000" stroke-width="1.3"/>
<path d="M386.2,215.7 L386.2,218.3 L384.5,220.0 L381.5,217.0 L384.5,214.0 Z" fill="#000"/>
<circle cx="384.5" cy="217.0" r="2.9" fill="#fff" stroke="#000" stroke-width="1.6"/>
<path d="M381.6,218.0 L381.6,217.0 A2.9,2.9 0 0 1 387.4,217.0 L387.4,218.0 Z" fill="#000"/>
<circle cx="246.0" cy="217.0" r="2.8" fill="#fff" stroke="#000" stroke-width="1.6"/>
<path d="M243.2,218.0 L243.2,217.0 A2.8,2.8 0 0 1 248.8,217.0 L248.8,218.0 Z" fill="#000"/>
<circle cx="122.8" cy="88.0" r="2.4" fill="#000"/>
<circle cx="122.8" cy="93.0" r="2.4" fill="#000"/>
<circle cx="122.8" cy="98.0" r="2.4" fill="#000"/>
<circle cx="122.8" cy="103.0" r="2.4" fill="#000"/>
<circle cx="122.8" cy="108.0" r="2.4" fill="#000"/>
<circle cx="122.8" cy="113.0" r="2.4" fill="#000"/>
<circle cx="122.8" cy="118.0" r="2.4" fill="#000"/>
<circle cx="122.8" cy="123.0" r="2.4" fill="#000"/>
<circle cx="122.8" cy="128.0" r="2.4" fill="#000"/>
<circle cx="122.8" cy="133.0" r="2.4" fill="#000"/>
<circle cx="122.8" cy="138.0" r="2.4" fill="#000"/>
<circle cx="122.8" cy="143.0" r="2.4" fill="#000"/>
<circle cx="122.8" cy="148.0" r="2.4" fill="#000"/>
<circle cx="122.8" cy="153.0" r="2.4" fill="#000"/>
<circle cx="122.8" cy="158.0" r="2.4" fill="#000"/>
<circle cx="122.8" cy="163.0" r="2.4" fill="#000"/>
<circle cx="122.8" cy="168.0" r="2.4" fill="#000"/>
<circle cx="122.8" cy="173.0" r="2.4" fill="#000"/>
<circle cx="122.8" cy="178.0" r="2.4" fill="#000"/>
<circle cx="122.8" cy="183.0" r="2.4" fill="#000"/>
<circle cx="122.8" cy="188.0" r="2.4" fill="#000"/>
<circle cx="122.8" cy="193.0" r="2.4" fill="#000"/>
<circle cx="122.8" cy="198.0" r="2.4" fill="#000"/>
<circle cx="122.8" cy="203.0" r="2.4" fill="#000"/>
<circle cx="122.8" cy="208.0" r="2.4" fill="#000"/>
<circle cx="122.8" cy="213.0" r="2.4" fill="#000"/>
<path d="M124.0,176.4 L127.6,180.0 L124.0,183.6 L120.4,180.0 Z" fill="#fff" stroke="#000" stroke-width="1.3"/>
<path d="M125.7,178.1 L125.7,181.9 L124.0,183.6 L120.4,180.0 L124.0,176.4 Z" fill="#000"/>
<path d="M124.0,184.4 L127.6,188.0 L124.0,191.6 L120.4,188.0 Z" fill="#fff" stroke="#000" stroke-width="1.3"/>
<path d="M125.7,186.1 L125.7,189.9 L124.0,191.6 L120.4,188.0 L124.0,184.4 Z" fill="#000"/>
<path d="M124.0,191.4 L127.6,195.0 L124.0,198.6 L120.4,195.0 Z" fill="#fff" stroke="#000" stroke-width="1.3"/>
<path d="M125.7,193.1 L125.7,196.9 L124.0,198.6 L120.4,195.0 L124.0,191.4 Z" fill="#000"/>
<text x="440.2" y="67.89999999999999" font-size="9.45"  text-anchor="start" fill="#000" >3 mg/kg</text>
<text x="440.2" y="85.0" font-size="9.45"  text-anchor="start" fill="#000" >1 mg/kg</text>
<text x="440.2" y="102.3" font-size="9.45"  text-anchor="start" fill="#000" >0.3 mg/kg</text>
<text x="440.2" y="118.6" font-size="9.45"  text-anchor="start" fill="#000" >0.0075 mg/kg</text>
<text x="440.2" y="135.20000000000002" font-size="9.45"  text-anchor="start" fill="#000" >0.015 mg/kg</text>
<text x="440.2" y="151.8" font-size="9.45"  text-anchor="start" fill="#000" >0.003 mg/kg</text>
<text x="440.2" y="168.9" font-size="9.45"  text-anchor="start" fill="#000" >0.0003 mg/kg</text>
<line x1="415.00" y1="64.60" x2="431.60" y2="64.60" stroke="#000" stroke-width="0.9" stroke-linecap="butt"/>
<circle cx="423.2" cy="64.6" r="2.3" fill="#000"/>
<line x1="416.00" y1="81.70" x2="417.60" y2="81.70" stroke="#111" stroke-width="1.8" stroke-linecap="butt"/>
<line x1="428.80" y1="81.70" x2="430.40" y2="81.70" stroke="#111" stroke-width="1.8" stroke-linecap="butt"/>
<rect x="420.5" y="79.0" width="5.4" height="5.4" fill="#fff" stroke="#222" stroke-width="1"/>
<line x1="414.90" y1="99.00" x2="418.90" y2="99.00" stroke="#000" stroke-width="2.5" stroke-linecap="butt"/>
<line x1="427.50" y1="99.00" x2="431.50" y2="99.00" stroke="#000" stroke-width="2.5" stroke-linecap="butt"/>
<circle cx="423.2" cy="99.0" r="2.9" fill="#fff" stroke="#000" stroke-width="1.6"/>
<path d="M420.3,100.0 L420.3,99.0 A2.9,2.9 0 0 1 426.1,99.0 L426.1,100.0 Z" fill="#000"/>
<line x1="417.40" y1="115.30" x2="420.00" y2="115.30" stroke="#000" stroke-width="1.4" stroke-linecap="butt"/>
<line x1="426.40" y1="115.30" x2="429.00" y2="115.30" stroke="#000" stroke-width="1.4" stroke-linecap="butt"/>
<line x1="414.90" y1="115.30" x2="416.40" y2="115.30" stroke="#000" stroke-width="1.4" stroke-linecap="butt"/>
<line x1="430.00" y1="115.30" x2="431.50" y2="115.30" stroke="#000" stroke-width="1.4" stroke-linecap="butt"/>
<path d="M423.2,112.9 L425.6,117.2 L420.8,117.2 Z" fill="#fff" stroke="#000" stroke-width="0.9"/>
<line x1="415.00" y1="131.90" x2="431.60" y2="131.90" stroke="#000" stroke-width="2.3" stroke-linecap="butt"/>
<path d="M420.6,129.3 L425.8,134.5 M420.6,134.5 L425.8,129.3" stroke="#000" stroke-width="1.5" fill="none"/>
<line x1="417.40" y1="148.50" x2="419.60" y2="148.50" stroke="#000" stroke-width="1.5" stroke-linecap="butt"/>
<line x1="426.80" y1="148.50" x2="429.00" y2="148.50" stroke="#000" stroke-width="1.5" stroke-linecap="butt"/>
<line x1="414.90" y1="148.50" x2="416.40" y2="148.50" stroke="#000" stroke-width="1.5" stroke-linecap="butt"/>
<line x1="430.00" y1="148.50" x2="431.50" y2="148.50" stroke="#000" stroke-width="1.5" stroke-linecap="butt"/>
<path d="M423.2,145.3 L426.4,148.5 L423.2,151.7 L420.0,148.5 Z" fill="#fff" stroke="#000" stroke-width="1.3"/>
<path d="M424.9,147.0 L424.9,150.0 L423.2,151.7 L420.0,148.5 L423.2,145.3 Z" fill="#000"/>
<line x1="416.40" y1="165.60" x2="417.80" y2="165.60" stroke="#222" stroke-width="1.3" stroke-linecap="butt"/>
<line x1="428.60" y1="165.60" x2="430.00" y2="165.60" stroke="#222" stroke-width="1.3" stroke-linecap="butt"/>
<rect x="420.4" y="162.8" width="5.6" height="5.6" fill="#fff" stroke="#222" stroke-width="1"/>
<rect x="420.4" y="162.8" width="3.4" height="5.6" fill="#222"/>
<text x="2" y="294" font-size="14.2" font-weight="bold" text-anchor="start" fill="#000"  stroke="#000" stroke-width="0.3" stroke-linejoin="round">B</text>
<text x="37.5" y="330" font-size="13.8"  text-anchor="start" fill="#111" >Cycle:</text>
<line x1="100.00" y1="342.10" x2="140.20" y2="342.10" stroke="#3a3a3a" stroke-width="1.6" stroke-linecap="butt"/>
<path d="M96,342.1 l7,-3.3 v6.6 Z" fill="#3a3a3a"/>
<path d="M144.2,342.1 l-7,-3.3 v6.6 Z" fill="#3a3a3a"/>
<line x1="154.80" y1="342.10" x2="195.20" y2="342.10" stroke="#3a3a3a" stroke-width="1.6" stroke-linecap="butt"/>
<path d="M150.8,342.1 l7,-3.3 v6.6 Z" fill="#3a3a3a"/>
<path d="M199.2,342.1 l-7,-3.3 v6.6 Z" fill="#3a3a3a"/>
<line x1="209.40" y1="342.10" x2="249.80" y2="342.10" stroke="#3a3a3a" stroke-width="1.6" stroke-linecap="butt"/>
<path d="M205.4,342.1 l7,-3.3 v6.6 Z" fill="#3a3a3a"/>
<path d="M253.8,342.1 l-7,-3.3 v6.6 Z" fill="#3a3a3a"/>
<line x1="265.20" y1="342.10" x2="305.00" y2="342.10" stroke="#3a3a3a" stroke-width="1.6" stroke-linecap="butt"/>
<path d="M261.2,342.1 l7,-3.3 v6.6 Z" fill="#3a3a3a"/>
<path d="M309,342.1 l-7,-3.3 v6.6 Z" fill="#3a3a3a"/>
<line x1="318.60" y1="342.10" x2="440.80" y2="342.10" stroke="#3a3a3a" stroke-width="1.6" stroke-dasharray="4.3 2.9" stroke-linecap="butt"/>
<path d="M314.6,342.1 l7,-3.3 v6.6 Z" fill="#3a3a3a"/>
<path d="M444.8,342.1 l-7,-3.3 v6.6 Z" fill="#3a3a3a"/>
<text x="119.5" y="333.3" font-size="9.7" font-weight="bold" text-anchor="middle" fill="#222"  stroke="#222" stroke-width="0.3" stroke-linejoin="round">1</text>
<text x="176.3" y="333.3" font-size="9.7" font-weight="bold" text-anchor="middle" fill="#222"  stroke="#222" stroke-width="0.3" stroke-linejoin="round">2</text>
<text x="229.5" y="333.3" font-size="9.7" font-weight="bold" text-anchor="middle" fill="#222"  stroke="#222" stroke-width="0.3" stroke-linejoin="round">3</text>
<text x="285" y="333.3" font-size="9.7" font-weight="bold" text-anchor="middle" fill="#222"  stroke="#222" stroke-width="0.3" stroke-linejoin="round">4</text>
<text x="371" y="333.3" font-size="9.7" font-weight="bold" text-anchor="middle" fill="#222"  stroke="#222" stroke-width="0.3" stroke-linejoin="round">FU</text>
<line x1="101.30" y1="351.40" x2="101.30" y2="513.50" stroke="#000" stroke-width="1.5" stroke-linecap="butt"/>
<line x1="97.50" y1="352.00" x2="101.30" y2="352.00" stroke="#000" stroke-width="1.3" stroke-linecap="butt"/>
<text x="96.5" y="355.1" font-size="8.6" font-weight="bold" text-anchor="end" fill="#111"  stroke="#111" stroke-width="0.3" stroke-linejoin="round">1000000</text>
<line x1="98.80" y1="370.32" x2="101.30" y2="370.32" stroke="#000" stroke-width="0.9" stroke-linecap="butt"/>
<line x1="98.80" y1="365.71" x2="101.30" y2="365.71" stroke="#000" stroke-width="0.9" stroke-linecap="butt"/>
<line x1="98.80" y1="362.43" x2="101.30" y2="362.43" stroke="#000" stroke-width="0.9" stroke-linecap="butt"/>
<line x1="98.80" y1="359.89" x2="101.30" y2="359.89" stroke="#000" stroke-width="0.9" stroke-linecap="butt"/>
<line x1="98.80" y1="357.82" x2="101.30" y2="357.82" stroke="#000" stroke-width="0.9" stroke-linecap="butt"/>
<line x1="98.80" y1="356.06" x2="101.30" y2="356.06" stroke="#000" stroke-width="0.9" stroke-linecap="butt"/>
<line x1="98.80" y1="354.54" x2="101.30" y2="354.54" stroke="#000" stroke-width="0.9" stroke-linecap="butt"/>
<line x1="98.80" y1="353.20" x2="101.30" y2="353.20" stroke="#000" stroke-width="0.9" stroke-linecap="butt"/>
<line x1="97.50" y1="378.22" x2="101.30" y2="378.22" stroke="#000" stroke-width="1.3" stroke-linecap="butt"/>
<text x="96.5" y="381.3166666666667" font-size="8.6" font-weight="bold" text-anchor="end" fill="#111"  stroke="#111" stroke-width="0.3" stroke-linejoin="round">100000</text>
<line x1="98.80" y1="396.54" x2="101.30" y2="396.54" stroke="#000" stroke-width="0.9" stroke-linecap="butt"/>
<line x1="98.80" y1="391.92" x2="101.30" y2="391.92" stroke="#000" stroke-width="0.9" stroke-linecap="butt"/>
<line x1="98.80" y1="388.65" x2="101.30" y2="388.65" stroke="#000" stroke-width="0.9" stroke-linecap="butt"/>
<line x1="98.80" y1="386.11" x2="101.30" y2="386.11" stroke="#000" stroke-width="0.9" stroke-linecap="butt"/>
<line x1="98.80" y1="384.03" x2="101.30" y2="384.03" stroke="#000" stroke-width="0.9" stroke-linecap="butt"/>
<line x1="98.80" y1="382.28" x2="101.30" y2="382.28" stroke="#000" stroke-width="0.9" stroke-linecap="butt"/>
<line x1="98.80" y1="380.76" x2="101.30" y2="380.76" stroke="#000" stroke-width="0.9" stroke-linecap="butt"/>
<line x1="98.80" y1="379.42" x2="101.30" y2="379.42" stroke="#000" stroke-width="0.9" stroke-linecap="butt"/>
<line x1="97.50" y1="404.43" x2="101.30" y2="404.43" stroke="#000" stroke-width="1.3" stroke-linecap="butt"/>
<text x="96.5" y="407.53333333333336" font-size="8.6" font-weight="bold" text-anchor="end" fill="#111"  stroke="#111" stroke-width="0.3" stroke-linejoin="round">10000</text>
<line x1="98.80" y1="422.76" x2="101.30" y2="422.76" stroke="#000" stroke-width="0.9" stroke-linecap="butt"/>
<line x1="98.80" y1="418.14" x2="101.30" y2="418.14" stroke="#000" stroke-width="0.9" stroke-linecap="butt"/>
<line x1="98.80" y1="414.87" x2="101.30" y2="414.87" stroke="#000" stroke-width="0.9" stroke-linecap="butt"/>
<line x1="98.80" y1="412.33" x2="101.30" y2="412.33" stroke="#000" stroke-width="0.9" stroke-linecap="butt"/>
<line x1="98.80" y1="410.25" x2="101.30" y2="410.25" stroke="#000" stroke-width="0.9" stroke-linecap="butt"/>
<line x1="98.80" y1="408.49" x2="101.30" y2="408.49" stroke="#000" stroke-width="0.9" stroke-linecap="butt"/>
<line x1="98.80" y1="406.97" x2="101.30" y2="406.97" stroke="#000" stroke-width="0.9" stroke-linecap="butt"/>
<line x1="98.80" y1="405.63" x2="101.30" y2="405.63" stroke="#000" stroke-width="0.9" stroke-linecap="butt"/>
<line x1="97.50" y1="430.65" x2="101.30" y2="430.65" stroke="#000" stroke-width="1.3" stroke-linecap="butt"/>
<text x="96.5" y="433.75" font-size="8.6" font-weight="bold" text-anchor="end" fill="#111"  stroke="#111" stroke-width="0.3" stroke-linejoin="round">1000</text>
<line x1="98.80" y1="448.97" x2="101.30" y2="448.97" stroke="#000" stroke-width="0.9" stroke-linecap="butt"/>
<line x1="98.80" y1="444.36" x2="101.30" y2="444.36" stroke="#000" stroke-width="0.9" stroke-linecap="butt"/>
<line x1="98.80" y1="441.08" x2="101.30" y2="441.08" stroke="#000" stroke-width="0.9" stroke-linecap="butt"/>
<line x1="98.80" y1="438.54" x2="101.30" y2="438.54" stroke="#000" stroke-width="0.9" stroke-linecap="butt"/>
<line x1="98.80" y1="436.47" x2="101.30" y2="436.47" stroke="#000" stroke-width="0.9" stroke-linecap="butt"/>
<line x1="98.80" y1="434.71" x2="101.30" y2="434.71" stroke="#000" stroke-width="0.9" stroke-linecap="butt"/>
<line x1="98.80" y1="433.19" x2="101.30" y2="433.19" stroke="#000" stroke-width="0.9" stroke-linecap="butt"/>
<line x1="98.80" y1="431.85" x2="101.30" y2="431.85" stroke="#000" stroke-width="0.9" stroke-linecap="butt"/>
<line x1="97.50" y1="456.87" x2="101.30" y2="456.87" stroke="#000" stroke-width="1.3" stroke-linecap="butt"/>
<text x="96.5" y="459.9666666666667" font-size="8.6" font-weight="bold" text-anchor="end" fill="#111"  stroke="#111" stroke-width="0.3" stroke-linejoin="round">100</text>
<line x1="98.80" y1="475.19" x2="101.30" y2="475.19" stroke="#000" stroke-width="0.9" stroke-linecap="butt"/>
<line x1="98.80" y1="470.57" x2="101.30" y2="470.57" stroke="#000" stroke-width="0.9" stroke-linecap="butt"/>
<line x1="98.80" y1="467.30" x2="101.30" y2="467.30" stroke="#000" stroke-width="0.9" stroke-linecap="butt"/>
<line x1="98.80" y1="464.76" x2="101.30" y2="464.76" stroke="#000" stroke-width="0.9" stroke-linecap="butt"/>
<line x1="98.80" y1="462.68" x2="101.30" y2="462.68" stroke="#000" stroke-width="0.9" stroke-linecap="butt"/>
<line x1="98.80" y1="460.93" x2="101.30" y2="460.93" stroke="#000" stroke-width="0.9" stroke-linecap="butt"/>
<line x1="98.80" y1="459.41" x2="101.30" y2="459.41" stroke="#000" stroke-width="0.9" stroke-linecap="butt"/>
<line x1="98.80" y1="458.07" x2="101.30" y2="458.07" stroke="#000" stroke-width="0.9" stroke-linecap="butt"/>
<line x1="97.50" y1="483.08" x2="101.30" y2="483.08" stroke="#000" stroke-width="1.3" stroke-linecap="butt"/>
<text x="96.5" y="486.1833333333334" font-size="8.6" font-weight="bold" text-anchor="end" fill="#111"  stroke="#111" stroke-width="0.3" stroke-linejoin="round">10</text>
<line x1="98.80" y1="501.41" x2="101.30" y2="501.41" stroke="#000" stroke-width="0.9" stroke-linecap="butt"/>
<line x1="98.80" y1="496.79" x2="101.30" y2="496.79" stroke="#000" stroke-width="0.9" stroke-linecap="butt"/>
<line x1="98.80" y1="493.52" x2="101.30" y2="493.52" stroke="#000" stroke-width="0.9" stroke-linecap="butt"/>
<line x1="98.80" y1="490.98" x2="101.30" y2="490.98" stroke="#000" stroke-width="0.9" stroke-linecap="butt"/>
<line x1="98.80" y1="488.90" x2="101.30" y2="488.90" stroke="#000" stroke-width="0.9" stroke-linecap="butt"/>
<line x1="98.80" y1="487.14" x2="101.30" y2="487.14" stroke="#000" stroke-width="0.9" stroke-linecap="butt"/>
<line x1="98.80" y1="485.62" x2="101.30" y2="485.62" stroke="#000" stroke-width="0.9" stroke-linecap="butt"/>
<line x1="98.80" y1="484.28" x2="101.30" y2="484.28" stroke="#000" stroke-width="0.9" stroke-linecap="butt"/>
<line x1="97.50" y1="509.30" x2="101.30" y2="509.30" stroke="#000" stroke-width="1.3" stroke-linecap="butt"/>
<text x="96.5" y="512.4" font-size="8.6" font-weight="bold" text-anchor="end" fill="#111"  stroke="#111" stroke-width="0.3" stroke-linejoin="round">1</text>
<text x="96.9" y="494.3" font-size="9" font-weight="bold" text-anchor="end" fill="#111"  stroke="#111" stroke-width="0.3" stroke-linejoin="round">LLOQ</text>
<text transform="translate(56.3,430) rotate(-90)" font-size="10.17" font-weight="bold" text-anchor="middle" fill="#111" stroke="#111" stroke-width="0.25">IPH2101 Concentration (ng/ml)</text>
<line x1="97.50" y1="509.30" x2="305.80" y2="509.30" stroke="#000" stroke-width="1.4" stroke-linecap="butt"/>
<line x1="309.50" y1="509.30" x2="420.20" y2="509.30" stroke="#000" stroke-width="1.4" stroke-linecap="butt"/>
<line x1="305.80" y1="506.70" x2="305.80" y2="513.50" stroke="#000" stroke-width="1.3" stroke-linecap="butt"/>
<line x1="309.50" y1="506.70" x2="309.50" y2="512.50" stroke="#000" stroke-width="1.3" stroke-linecap="butt"/>
<line x1="101.00" y1="509.30" x2="101.00" y2="513.70" stroke="#000" stroke-width="1.25" stroke-linecap="butt"/>
<line x1="113.80" y1="509.30" x2="113.80" y2="512.20" stroke="#000" stroke-width="1.15" stroke-linecap="butt"/>
<line x1="126.60" y1="509.30" x2="126.60" y2="512.20" stroke="#000" stroke-width="1.15" stroke-linecap="butt"/>
<line x1="139.40" y1="509.30" x2="139.40" y2="512.20" stroke="#000" stroke-width="1.15" stroke-linecap="butt"/>
<line x1="152.20" y1="509.30" x2="152.20" y2="513.70" stroke="#000" stroke-width="1.25" stroke-linecap="butt"/>
<line x1="165.00" y1="509.30" x2="165.00" y2="512.20" stroke="#000" stroke-width="1.15" stroke-linecap="butt"/>
<line x1="177.80" y1="509.30" x2="177.80" y2="512.20" stroke="#000" stroke-width="1.15" stroke-linecap="butt"/>
<line x1="190.60" y1="509.30" x2="190.60" y2="512.20" stroke="#000" stroke-width="1.15" stroke-linecap="butt"/>
<line x1="203.40" y1="509.30" x2="203.40" y2="513.70" stroke="#000" stroke-width="1.25" stroke-linecap="butt"/>
<line x1="216.20" y1="509.30" x2="216.20" y2="512.20" stroke="#000" stroke-width="1.15" stroke-linecap="butt"/>
<line x1="229.00" y1="509.30" x2="229.00" y2="512.20" stroke="#000" stroke-width="1.15" stroke-linecap="butt"/>
<line x1="241.80" y1="509.30" x2="241.80" y2="512.20" stroke="#000" stroke-width="1.15" stroke-linecap="butt"/>
<line x1="254.60" y1="509.30" x2="254.60" y2="513.70" stroke="#000" stroke-width="1.25" stroke-linecap="butt"/>
<line x1="267.40" y1="509.30" x2="267.40" y2="512.20" stroke="#000" stroke-width="1.15" stroke-linecap="butt"/>
<line x1="280.20" y1="509.30" x2="280.20" y2="512.20" stroke="#000" stroke-width="1.15" stroke-linecap="butt"/>
<line x1="293.00" y1="509.30" x2="293.00" y2="512.20" stroke="#000" stroke-width="1.15" stroke-linecap="butt"/>
<line x1="305.80" y1="509.30" x2="305.80" y2="513.70" stroke="#000" stroke-width="1.25" stroke-linecap="butt"/>
<line x1="364.25" y1="509.30" x2="364.25" y2="513.70" stroke="#000" stroke-width="1.25" stroke-linecap="butt"/>
<line x1="392.00" y1="509.30" x2="392.00" y2="513.70" stroke="#000" stroke-width="1.25" stroke-linecap="butt"/>
<line x1="419.60" y1="509.30" x2="419.60" y2="513.70" stroke="#000" stroke-width="1.25" stroke-linecap="butt"/>
<text x="101" y="522.6" font-size="8.7" font-weight="bold" text-anchor="middle" fill="#111"  stroke="#111" stroke-width="0.3" stroke-linejoin="round">0</text>
<text x="152.5" y="522.6" font-size="8.7" font-weight="bold" text-anchor="middle" fill="#111"  stroke="#111" stroke-width="0.3" stroke-linejoin="round">28</text>
<text x="203.8" y="522.6" font-size="8.7" font-weight="bold" text-anchor="middle" fill="#111"  stroke="#111" stroke-width="0.3" stroke-linejoin="round">56</text>
<text x="254.5" y="522.6" font-size="8.7" font-weight="bold" text-anchor="middle" fill="#111"  stroke="#111" stroke-width="0.3" stroke-linejoin="round">84</text>
<text x="305.8" y="522.6" font-size="8.7" font-weight="bold" text-anchor="middle" fill="#111"  stroke="#111" stroke-width="0.3" stroke-linejoin="round">112</text>
<text x="336.75" y="522.6" font-size="8.7" font-weight="bold" text-anchor="middle" fill="#111"  stroke="#111" stroke-width="0.3" stroke-linejoin="round">140</text>
<text x="364.25" y="522.6" font-size="8.7" font-weight="bold" text-anchor="middle" fill="#111"  stroke="#111" stroke-width="0.3" stroke-linejoin="round">168</text>
<text x="392" y="522.6" font-size="8.7" font-weight="bold" text-anchor="middle" fill="#111"  stroke="#111" stroke-width="0.3" stroke-linejoin="round">196</text>
<text x="419.5" y="522.6" font-size="8.7" font-weight="bold" text-anchor="middle" fill="#111"  stroke="#111" stroke-width="0.3" stroke-linejoin="round">224</text>
<text x="260.2" y="536.2" font-size="10.05" font-weight="bold" text-anchor="middle" fill="#111"  stroke="#111" stroke-width="0.3" stroke-linejoin="round">Time (days)</text>
<line x1="103.30" y1="491.30" x2="417.50" y2="491.30" stroke="#111" stroke-width="1.2" stroke-dasharray="1.2 2.8" stroke-linecap="butt"/>
<line x1="114.00" y1="394.80" x2="114.00" y2="404.00" stroke="#3a3a3a" stroke-width="1.1" stroke-linecap="butt"/>
<line x1="111.80" y1="394.80" x2="116.20" y2="394.80" stroke="#3a3a3a" stroke-width="1.1" stroke-linecap="butt"/>
<line x1="111.80" y1="404.00" x2="116.20" y2="404.00" stroke="#3a3a3a" stroke-width="1.1" stroke-linecap="butt"/>
<line x1="127.00" y1="400.00" x2="127.00" y2="409.00" stroke="#3a3a3a" stroke-width="1.1" stroke-linecap="butt"/>
<line x1="124.80" y1="400.00" x2="129.20" y2="400.00" stroke="#3a3a3a" stroke-width="1.1" stroke-linecap="butt"/>
<line x1="124.80" y1="409.00" x2="129.20" y2="409.00" stroke="#3a3a3a" stroke-width="1.1" stroke-linecap="butt"/>
<line x1="139.80" y1="402.20" x2="139.80" y2="412.00" stroke="#3a3a3a" stroke-width="1.1" stroke-linecap="butt"/>
<line x1="137.60" y1="402.20" x2="142.00" y2="402.20" stroke="#3a3a3a" stroke-width="1.1" stroke-linecap="butt"/>
<line x1="137.60" y1="412.00" x2="142.00" y2="412.00" stroke="#3a3a3a" stroke-width="1.1" stroke-linecap="butt"/>
<line x1="152.60" y1="408.00" x2="152.60" y2="420.00" stroke="#3a3a3a" stroke-width="1.1" stroke-linecap="butt"/>
<line x1="150.40" y1="408.00" x2="154.80" y2="408.00" stroke="#3a3a3a" stroke-width="1.1" stroke-linecap="butt"/>
<line x1="150.40" y1="420.00" x2="154.80" y2="420.00" stroke="#3a3a3a" stroke-width="1.1" stroke-linecap="butt"/>
<line x1="152.60" y1="378.50" x2="152.60" y2="385.00" stroke="#3a3a3a" stroke-width="1.1" stroke-linecap="butt"/>
<line x1="150.40" y1="378.50" x2="154.80" y2="378.50" stroke="#3a3a3a" stroke-width="1.1" stroke-linecap="butt"/>
<line x1="150.40" y1="385.00" x2="154.80" y2="385.00" stroke="#3a3a3a" stroke-width="1.1" stroke-linecap="butt"/>
<line x1="177.50" y1="397.00" x2="177.50" y2="402.00" stroke="#3a3a3a" stroke-width="1.1" stroke-linecap="butt"/>
<line x1="175.30" y1="397.00" x2="179.70" y2="397.00" stroke="#3a3a3a" stroke-width="1.1" stroke-linecap="butt"/>
<line x1="175.30" y1="402.00" x2="179.70" y2="402.00" stroke="#3a3a3a" stroke-width="1.1" stroke-linecap="butt"/>
<line x1="203.80" y1="378.00" x2="203.80" y2="385.00" stroke="#3a3a3a" stroke-width="1.1" stroke-linecap="butt"/>
<line x1="201.60" y1="378.00" x2="206.00" y2="378.00" stroke="#3a3a3a" stroke-width="1.1" stroke-linecap="butt"/>
<line x1="201.60" y1="385.00" x2="206.00" y2="385.00" stroke="#3a3a3a" stroke-width="1.1" stroke-linecap="butt"/>
<line x1="203.80" y1="406.00" x2="203.80" y2="417.00" stroke="#3a3a3a" stroke-width="1.1" stroke-linecap="butt"/>
<line x1="201.60" y1="406.00" x2="206.00" y2="406.00" stroke="#3a3a3a" stroke-width="1.1" stroke-linecap="butt"/>
<line x1="201.60" y1="417.00" x2="206.00" y2="417.00" stroke="#3a3a3a" stroke-width="1.1" stroke-linecap="butt"/>
<line x1="229.00" y1="396.50" x2="229.00" y2="399.50" stroke="#3a3a3a" stroke-width="1.1" stroke-linecap="butt"/>
<line x1="226.80" y1="396.50" x2="231.20" y2="396.50" stroke="#3a3a3a" stroke-width="1.1" stroke-linecap="butt"/>
<line x1="226.80" y1="399.50" x2="231.20" y2="399.50" stroke="#3a3a3a" stroke-width="1.1" stroke-linecap="butt"/>
<line x1="254.50" y1="377.00" x2="254.50" y2="383.00" stroke="#3a3a3a" stroke-width="1.1" stroke-linecap="butt"/>
<line x1="252.30" y1="377.00" x2="256.70" y2="377.00" stroke="#3a3a3a" stroke-width="1.1" stroke-linecap="butt"/>
<line x1="252.30" y1="383.00" x2="256.70" y2="383.00" stroke="#3a3a3a" stroke-width="1.1" stroke-linecap="butt"/>
<line x1="254.50" y1="405.00" x2="254.50" y2="414.00" stroke="#3a3a3a" stroke-width="1.1" stroke-linecap="butt"/>
<line x1="252.30" y1="405.00" x2="256.70" y2="405.00" stroke="#3a3a3a" stroke-width="1.1" stroke-linecap="butt"/>
<line x1="252.30" y1="414.00" x2="256.70" y2="414.00" stroke="#3a3a3a" stroke-width="1.1" stroke-linecap="butt"/>
<line x1="279.50" y1="396.00" x2="279.50" y2="399.00" stroke="#3a3a3a" stroke-width="1.1" stroke-linecap="butt"/>
<line x1="277.30" y1="396.00" x2="281.70" y2="396.00" stroke="#3a3a3a" stroke-width="1.1" stroke-linecap="butt"/>
<line x1="277.30" y1="399.00" x2="281.70" y2="399.00" stroke="#3a3a3a" stroke-width="1.1" stroke-linecap="butt"/>
<line x1="305.50" y1="401.00" x2="305.50" y2="420.00" stroke="#484848" stroke-width="1.3" stroke-linecap="butt"/>
<line x1="303.30" y1="401.00" x2="307.70" y2="401.00" stroke="#484848" stroke-width="1.3" stroke-linecap="butt"/>
<line x1="303.30" y1="420.00" x2="307.70" y2="420.00" stroke="#484848" stroke-width="1.3" stroke-linecap="butt"/>
<line x1="336.75" y1="409.50" x2="336.75" y2="430.00" stroke="#484848" stroke-width="1.3" stroke-linecap="butt"/>
<line x1="334.55" y1="409.50" x2="338.95" y2="409.50" stroke="#484848" stroke-width="1.3" stroke-linecap="butt"/>
<line x1="334.55" y1="430.00" x2="338.95" y2="430.00" stroke="#484848" stroke-width="1.3" stroke-linecap="butt"/>
<line x1="364.25" y1="420.50" x2="364.25" y2="454.00" stroke="#484848" stroke-width="1.3" stroke-linecap="butt"/>
<line x1="362.05" y1="420.50" x2="366.45" y2="420.50" stroke="#484848" stroke-width="1.3" stroke-linecap="butt"/>
<line x1="362.05" y1="454.00" x2="366.45" y2="454.00" stroke="#484848" stroke-width="1.3" stroke-linecap="butt"/>
<line x1="392.00" y1="433.75" x2="392.00" y2="473.00" stroke="#484848" stroke-width="1.3" stroke-linecap="butt"/>
<line x1="389.80" y1="433.75" x2="394.20" y2="433.75" stroke="#484848" stroke-width="1.3" stroke-linecap="butt"/>
<line x1="389.80" y1="473.00" x2="394.20" y2="473.00" stroke="#484848" stroke-width="1.3" stroke-linecap="butt"/>
<line x1="419.50" y1="445.75" x2="419.50" y2="456.00" stroke="#484848" stroke-width="1.3" stroke-linecap="butt"/>
<line x1="417.30" y1="445.75" x2="421.70" y2="445.75" stroke="#484848" stroke-width="1.3" stroke-linecap="butt"/>
<polyline points="101.5,404.0 101.8,381.0 102.5,385.0 103.5,389.0 105.0,393.0 114.0,399.7 127.0,404.0 139.8,406.6 152.6,413.2 152.6,381.6 155.0,384.5 177.5,399.5 203.8,411.0 203.8,381.0 206.0,384.5 229.0,398.0 254.5,409.0 254.5,380.0 257.0,384.0 279.5,397.5 305.5,407.0 336.8,415.5 364.2,427.5 392.0,440.8 419.5,456.8" fill="none" stroke="#000" stroke-width="1.6" stroke-linejoin="round"/>
<circle cx="101.5" cy="404.0" r="2.7" fill="#000"/>
<circle cx="101.8" cy="381.0" r="2.7" fill="#000"/>
<circle cx="102.5" cy="385.0" r="2.7" fill="#000"/>
<circle cx="103.5" cy="389.0" r="2.7" fill="#000"/>
<circle cx="105.0" cy="393.0" r="2.7" fill="#000"/>
<circle cx="114.0" cy="399.7" r="2.7" fill="#000"/>
<circle cx="127.0" cy="404.0" r="2.7" fill="#000"/>
<circle cx="139.8" cy="406.6" r="2.7" fill="#000"/>
<circle cx="152.6" cy="413.2" r="2.7" fill="#000"/>
<circle cx="152.6" cy="381.6" r="2.7" fill="#000"/>
<circle cx="155.0" cy="384.5" r="2.7" fill="#000"/>
<circle cx="177.5" cy="399.5" r="2.7" fill="#000"/>
<circle cx="203.8" cy="411.0" r="2.7" fill="#000"/>
<circle cx="203.8" cy="381.0" r="2.7" fill="#000"/>
<circle cx="206.0" cy="384.5" r="2.7" fill="#000"/>
<circle cx="229.0" cy="398.0" r="2.7" fill="#000"/>
<circle cx="254.5" cy="409.0" r="2.7" fill="#000"/>
<circle cx="254.5" cy="380.0" r="2.7" fill="#000"/>
<circle cx="257.0" cy="384.0" r="2.7" fill="#000"/>
<circle cx="279.5" cy="397.5" r="2.7" fill="#000"/>
<circle cx="305.5" cy="407.0" r="2.7" fill="#000"/>
<circle cx="336.8" cy="415.5" r="2.7" fill="#000"/>
<circle cx="364.2" cy="427.5" r="2.7" fill="#000"/>
<circle cx="392.0" cy="440.8" r="2.7" fill="#000"/>
<circle cx="419.5" cy="456.8" r="2.7" fill="#000"/>
<line x1="114.00" y1="404.00" x2="114.00" y2="416.00" stroke="#5a5a5a" stroke-width="1.1" stroke-linecap="butt"/>
<line x1="111.80" y1="404.00" x2="116.20" y2="404.00" stroke="#5a5a5a" stroke-width="1.1" stroke-linecap="butt"/>
<line x1="111.80" y1="416.00" x2="116.20" y2="416.00" stroke="#5a5a5a" stroke-width="1.1" stroke-linecap="butt"/>
<line x1="127.00" y1="408.00" x2="127.00" y2="421.00" stroke="#5a5a5a" stroke-width="1.1" stroke-linecap="butt"/>
<line x1="124.80" y1="408.00" x2="129.20" y2="408.00" stroke="#5a5a5a" stroke-width="1.1" stroke-linecap="butt"/>
<line x1="124.80" y1="421.00" x2="129.20" y2="421.00" stroke="#5a5a5a" stroke-width="1.1" stroke-linecap="butt"/>
<line x1="139.80" y1="411.00" x2="139.80" y2="425.00" stroke="#5a5a5a" stroke-width="1.1" stroke-linecap="butt"/>
<line x1="137.60" y1="411.00" x2="142.00" y2="411.00" stroke="#5a5a5a" stroke-width="1.1" stroke-linecap="butt"/>
<line x1="137.60" y1="425.00" x2="142.00" y2="425.00" stroke="#5a5a5a" stroke-width="1.1" stroke-linecap="butt"/>
<line x1="152.60" y1="417.00" x2="152.60" y2="430.00" stroke="#5a5a5a" stroke-width="1.1" stroke-linecap="butt"/>
<line x1="150.40" y1="417.00" x2="154.80" y2="417.00" stroke="#5a5a5a" stroke-width="1.1" stroke-linecap="butt"/>
<line x1="150.40" y1="430.00" x2="154.80" y2="430.00" stroke="#5a5a5a" stroke-width="1.1" stroke-linecap="butt"/>
<line x1="177.50" y1="402.00" x2="177.50" y2="418.00" stroke="#5a5a5a" stroke-width="1.1" stroke-linecap="butt"/>
<line x1="175.30" y1="402.00" x2="179.70" y2="402.00" stroke="#5a5a5a" stroke-width="1.1" stroke-linecap="butt"/>
<line x1="175.30" y1="418.00" x2="179.70" y2="418.00" stroke="#5a5a5a" stroke-width="1.1" stroke-linecap="butt"/>
<line x1="203.80" y1="408.00" x2="203.80" y2="420.00" stroke="#5a5a5a" stroke-width="1.1" stroke-linecap="butt"/>
<line x1="201.60" y1="408.00" x2="206.00" y2="408.00" stroke="#5a5a5a" stroke-width="1.1" stroke-linecap="butt"/>
<line x1="201.60" y1="420.00" x2="206.00" y2="420.00" stroke="#5a5a5a" stroke-width="1.1" stroke-linecap="butt"/>
<polyline points="102.0,394.0 102.5,397.0 114.0,410.0 127.0,414.4 139.8,417.6 152.6,423.2 152.6,394.0 155.0,398.8 177.5,406.0 203.8,413.0" fill="none" stroke="#111" stroke-width="1.8" stroke-dasharray="5 2" stroke-linejoin="round"/>
<rect x="99.8" y="391.8" width="4.4" height="4.4" fill="#fff" stroke="#333" stroke-width="1.1"/>
<rect x="100.3" y="394.8" width="4.4" height="4.4" fill="#fff" stroke="#333" stroke-width="1.1"/>
<rect x="111.8" y="407.8" width="4.4" height="4.4" fill="#fff" stroke="#333" stroke-width="1.1"/>
<rect x="124.8" y="412.2" width="4.4" height="4.4" fill="#fff" stroke="#333" stroke-width="1.1"/>
<rect x="137.6" y="415.4" width="4.4" height="4.4" fill="#fff" stroke="#333" stroke-width="1.1"/>
<rect x="150.4" y="421.0" width="4.4" height="4.4" fill="#fff" stroke="#333" stroke-width="1.1"/>
<rect x="150.4" y="391.8" width="4.4" height="4.4" fill="#fff" stroke="#333" stroke-width="1.1"/>
<rect x="152.8" y="396.6" width="4.4" height="4.4" fill="#fff" stroke="#333" stroke-width="1.1"/>
<rect x="175.3" y="403.8" width="4.4" height="4.4" fill="#fff" stroke="#333" stroke-width="1.1"/>
<rect x="201.6" y="410.8" width="4.4" height="4.4" fill="#fff" stroke="#333" stroke-width="1.1"/>
<line x1="114.00" y1="421.00" x2="114.00" y2="430.00" stroke="#222" stroke-width="1.6" stroke-linecap="butt"/>
<line x1="111.80" y1="421.00" x2="116.20" y2="421.00" stroke="#222" stroke-width="1.6" stroke-linecap="butt"/>
<line x1="111.80" y1="430.00" x2="116.20" y2="430.00" stroke="#222" stroke-width="1.6" stroke-linecap="butt"/>
<line x1="127.00" y1="424.00" x2="127.00" y2="456.00" stroke="#222" stroke-width="1.6" stroke-linecap="butt"/>
<line x1="124.80" y1="424.00" x2="129.20" y2="424.00" stroke="#222" stroke-width="1.6" stroke-linecap="butt"/>
<line x1="124.80" y1="456.00" x2="129.20" y2="456.00" stroke="#222" stroke-width="1.6" stroke-linecap="butt"/>
<line x1="139.80" y1="428.00" x2="139.80" y2="462.00" stroke="#555" stroke-width="1.2" stroke-linecap="butt"/>
<line x1="137.60" y1="428.00" x2="142.00" y2="428.00" stroke="#555" stroke-width="1.2" stroke-linecap="butt"/>
<line x1="137.60" y1="462.00" x2="142.00" y2="462.00" stroke="#555" stroke-width="1.2" stroke-linecap="butt"/>
<line x1="152.60" y1="428.00" x2="152.60" y2="470.00" stroke="#555" stroke-width="1.2" stroke-linecap="butt"/>
<line x1="150.40" y1="428.00" x2="154.80" y2="428.00" stroke="#555" stroke-width="1.2" stroke-linecap="butt"/>
<line x1="150.40" y1="470.00" x2="154.80" y2="470.00" stroke="#555" stroke-width="1.2" stroke-linecap="butt"/>
<polyline points="102.0,404.0 103.0,416.0 105.0,422.0 114.0,429.5 127.0,430.5 139.8,435.0 152.6,446.0" fill="none" stroke="#000" stroke-width="2.2" stroke-dasharray="5 2.5" stroke-linejoin="round"/>
<path d="M102.0,406.8 L104.8,401.8 L99.2,401.8 Z" fill="#000" stroke="#000" stroke-width="0.8"/>
<path d="M103.0,418.8 L105.8,413.8 L100.2,413.8 Z" fill="#000" stroke="#000" stroke-width="0.8"/>
<path d="M105.0,424.8 L107.8,419.8 L102.2,419.8 Z" fill="#000" stroke="#000" stroke-width="0.8"/>
<path d="M114.0,432.3 L116.8,427.3 L111.2,427.3 Z" fill="#000" stroke="#000" stroke-width="0.8"/>
<path d="M127.0,433.3 L129.8,428.3 L124.2,428.3 Z" fill="#000" stroke="#000" stroke-width="0.8"/>
<path d="M139.8,437.8 L142.6,432.8 L137.0,432.8 Z" fill="#000" stroke="#000" stroke-width="0.8"/>
<path d="M152.6,448.8 L155.4,443.8 L149.8,443.8 Z" fill="#000" stroke="#000" stroke-width="0.8"/>
<line x1="114.00" y1="442.00" x2="114.00" y2="462.00" stroke="#5a5a5a" stroke-width="1.1" stroke-linecap="butt"/>
<line x1="111.80" y1="442.00" x2="116.20" y2="442.00" stroke="#5a5a5a" stroke-width="1.1" stroke-linecap="butt"/>
<line x1="111.80" y1="462.00" x2="116.20" y2="462.00" stroke="#5a5a5a" stroke-width="1.1" stroke-linecap="butt"/>
<line x1="127.00" y1="446.00" x2="127.00" y2="468.00" stroke="#5a5a5a" stroke-width="1.1" stroke-linecap="butt"/>
<line x1="124.80" y1="446.00" x2="129.20" y2="446.00" stroke="#5a5a5a" stroke-width="1.1" stroke-linecap="butt"/>
<line x1="124.80" y1="468.00" x2="129.20" y2="468.00" stroke="#5a5a5a" stroke-width="1.1" stroke-linecap="butt"/>
<line x1="139.80" y1="452.00" x2="139.80" y2="468.00" stroke="#5a5a5a" stroke-width="1.1" stroke-linecap="butt"/>
<line x1="137.60" y1="452.00" x2="142.00" y2="452.00" stroke="#5a5a5a" stroke-width="1.1" stroke-linecap="butt"/>
<line x1="137.60" y1="468.00" x2="142.00" y2="468.00" stroke="#5a5a5a" stroke-width="1.1" stroke-linecap="butt"/>
<line x1="177.50" y1="442.00" x2="177.50" y2="452.00" stroke="#5a5a5a" stroke-width="1.1" stroke-linecap="butt"/>
<line x1="175.30" y1="442.00" x2="179.70" y2="442.00" stroke="#5a5a5a" stroke-width="1.1" stroke-linecap="butt"/>
<line x1="175.30" y1="452.00" x2="179.70" y2="452.00" stroke="#5a5a5a" stroke-width="1.1" stroke-linecap="butt"/>
<line x1="203.80" y1="440.00" x2="203.80" y2="470.00" stroke="#5a5a5a" stroke-width="1.1" stroke-linecap="butt"/>
<line x1="201.60" y1="440.00" x2="206.00" y2="440.00" stroke="#5a5a5a" stroke-width="1.1" stroke-linecap="butt"/>
<line x1="201.60" y1="470.00" x2="206.00" y2="470.00" stroke="#5a5a5a" stroke-width="1.1" stroke-linecap="butt"/>
<line x1="229.00" y1="456.00" x2="229.00" y2="474.00" stroke="#5a5a5a" stroke-width="1.1" stroke-linecap="butt"/>
<line x1="226.80" y1="456.00" x2="231.20" y2="456.00" stroke="#5a5a5a" stroke-width="1.1" stroke-linecap="butt"/>
<line x1="226.80" y1="474.00" x2="231.20" y2="474.00" stroke="#5a5a5a" stroke-width="1.1" stroke-linecap="butt"/>
<line x1="254.50" y1="425.00" x2="254.50" y2="432.00" stroke="#5a5a5a" stroke-width="1.1" stroke-linecap="butt"/>
<line x1="252.30" y1="425.00" x2="256.70" y2="425.00" stroke="#5a5a5a" stroke-width="1.1" stroke-linecap="butt"/>
<line x1="252.30" y1="432.00" x2="256.70" y2="432.00" stroke="#5a5a5a" stroke-width="1.1" stroke-linecap="butt"/>
<line x1="279.50" y1="449.50" x2="279.50" y2="459.00" stroke="#5a5a5a" stroke-width="1.1" stroke-linecap="butt"/>
<line x1="277.30" y1="449.50" x2="281.70" y2="449.50" stroke="#5a5a5a" stroke-width="1.1" stroke-linecap="butt"/>
<line x1="277.30" y1="459.00" x2="281.70" y2="459.00" stroke="#5a5a5a" stroke-width="1.1" stroke-linecap="butt"/>
<line x1="305.50" y1="460.50" x2="305.50" y2="468.00" stroke="#5a5a5a" stroke-width="1.1" stroke-linecap="butt"/>
<line x1="303.30" y1="460.50" x2="307.70" y2="460.50" stroke="#5a5a5a" stroke-width="1.1" stroke-linecap="butt"/>
<line x1="303.30" y1="468.00" x2="307.70" y2="468.00" stroke="#5a5a5a" stroke-width="1.1" stroke-linecap="butt"/>
<line x1="203.80" y1="420.00" x2="203.80" y2="435.00" stroke="#5a5a5a" stroke-width="1.1" stroke-linecap="butt"/>
<line x1="201.60" y1="420.00" x2="206.00" y2="420.00" stroke="#5a5a5a" stroke-width="1.1" stroke-linecap="butt"/>
<line x1="201.60" y1="435.00" x2="206.00" y2="435.00" stroke="#5a5a5a" stroke-width="1.1" stroke-linecap="butt"/>
<polyline points="102.0,422.0 103.0,432.0 105.0,440.0 114.0,450.8 127.0,455.5 139.8,461.0 152.6,470.0 152.6,431.0 155.0,436.0 177.5,452.0 203.8,461.0 203.8,429.5 206.0,433.0 229.0,461.0 254.5,474.0 254.5,430.0 257.0,434.0 279.5,459.0 305.5,468.0" fill="none" stroke="#000" stroke-width="1.5" stroke-dasharray="5 2" stroke-linejoin="round"/>
<path d="M102.0,419.7 L104.3,423.8 L99.7,423.8 Z" fill="#fff" stroke="#000" stroke-width="1.1"/>
<path d="M103.0,429.7 L105.3,433.8 L100.7,433.8 Z" fill="#fff" stroke="#000" stroke-width="1.1"/>
<path d="M105.0,437.7 L107.3,441.8 L102.7,441.8 Z" fill="#fff" stroke="#000" stroke-width="1.1"/>
<path d="M114.0,448.4 L116.3,452.6 L111.7,452.6 Z" fill="#fff" stroke="#000" stroke-width="1.1"/>
<path d="M127.0,453.2 L129.3,457.3 L124.7,457.3 Z" fill="#000" stroke="#000" stroke-width="1.1"/>
<path d="M139.8,458.7 L142.1,462.8 L137.5,462.8 Z" fill="#fff" stroke="#000" stroke-width="1.1"/>
<path d="M152.6,467.7 L154.9,471.8 L150.3,471.8 Z" fill="#fff" stroke="#000" stroke-width="1.1"/>
<path d="M152.6,428.7 L154.9,432.8 L150.3,432.8 Z" fill="#000" stroke="#000" stroke-width="1.1"/>
<path d="M155.0,433.7 L157.3,437.8 L152.7,437.8 Z" fill="#fff" stroke="#000" stroke-width="1.1"/>
<path d="M177.5,449.7 L179.8,453.8 L175.2,453.8 Z" fill="#fff" stroke="#000" stroke-width="1.1"/>
<path d="M203.8,458.7 L206.1,462.8 L201.5,462.8 Z" fill="#fff" stroke="#000" stroke-width="1.1"/>
<path d="M203.8,427.2 L206.1,431.3 L201.5,431.3 Z" fill="#000" stroke="#000" stroke-width="1.1"/>
<path d="M206.0,430.7 L208.3,434.8 L203.7,434.8 Z" fill="#fff" stroke="#000" stroke-width="1.1"/>
<path d="M229.0,458.7 L231.3,462.8 L226.7,462.8 Z" fill="#fff" stroke="#000" stroke-width="1.1"/>
<path d="M254.5,471.7 L256.8,475.8 L252.2,475.8 Z" fill="#fff" stroke="#000" stroke-width="1.1"/>
<path d="M254.5,427.7 L256.8,431.8 L252.2,431.8 Z" fill="#000" stroke="#000" stroke-width="1.1"/>
<path d="M257.0,431.7 L259.3,435.8 L254.7,435.8 Z" fill="#fff" stroke="#000" stroke-width="1.1"/>
<path d="M279.5,456.7 L281.8,460.8 L277.2,460.8 Z" fill="#fff" stroke="#000" stroke-width="1.1"/>
<path d="M305.5,465.7 L307.8,469.8 L303.2,469.8 Z" fill="#fff" stroke="#000" stroke-width="1.1"/>
<path d="M127.0,427.2 L129.8,432.2 L124.2,432.2 Z" fill="#000" stroke="#000" stroke-width="0.9"/>
<line x1="114.00" y1="460.00" x2="114.00" y2="469.00" stroke="#000" stroke-width="1.6" stroke-linecap="butt"/>
<line x1="111.80" y1="460.00" x2="116.20" y2="460.00" stroke="#000" stroke-width="1.6" stroke-linecap="butt"/>
<line x1="127.00" y1="468.00" x2="127.00" y2="478.50" stroke="#000" stroke-width="1.6" stroke-linecap="butt"/>
<line x1="124.80" y1="468.00" x2="129.20" y2="468.00" stroke="#000" stroke-width="1.6" stroke-linecap="butt"/>
<line x1="139.80" y1="480.00" x2="139.80" y2="490.00" stroke="#000" stroke-width="1.6" stroke-linecap="butt"/>
<line x1="137.60" y1="480.00" x2="142.00" y2="480.00" stroke="#000" stroke-width="1.6" stroke-linecap="butt"/>
<line x1="177.50" y1="466.00" x2="177.50" y2="476.00" stroke="#000" stroke-width="1.6" stroke-linecap="butt"/>
<line x1="175.30" y1="466.00" x2="179.70" y2="466.00" stroke="#000" stroke-width="1.6" stroke-linecap="butt"/>
<line x1="203.80" y1="474.00" x2="203.80" y2="484.00" stroke="#000" stroke-width="1.6" stroke-linecap="butt"/>
<line x1="201.60" y1="474.00" x2="206.00" y2="474.00" stroke="#000" stroke-width="1.6" stroke-linecap="butt"/>
<polyline points="101.5,432.0 102.5,447.0 104.0,455.0 114.0,469.0 127.0,478.5 139.8,490.0 152.6,496.0 152.6,451.0 177.5,476.0 203.8,484.0" fill="none" stroke="#000" stroke-width="2.2" stroke-linejoin="round"/>
<path d="M98.6,429.1 L104.4,434.9 M98.6,434.9 L104.4,429.1" stroke="#000" stroke-width="1.6" fill="none"/>
<path d="M99.6,444.1 L105.4,449.9 M99.6,449.9 L105.4,444.1" stroke="#000" stroke-width="1.6" fill="none"/>
<path d="M101.1,452.1 L106.9,457.9 M101.1,457.9 L106.9,452.1" stroke="#000" stroke-width="1.6" fill="none"/>
<path d="M111.1,466.1 L116.9,471.9 M111.1,471.9 L116.9,466.1" stroke="#000" stroke-width="1.6" fill="none"/>
<path d="M124.1,475.6 L129.9,481.4 M124.1,481.4 L129.9,475.6" stroke="#000" stroke-width="1.6" fill="none"/>
<path d="M136.9,487.1 L142.7,492.9 M136.9,492.9 L142.7,487.1" stroke="#000" stroke-width="1.6" fill="none"/>
<path d="M149.7,493.1 L155.5,498.9 M149.7,498.9 L155.5,493.1" stroke="#000" stroke-width="1.6" fill="none"/>
<path d="M149.7,448.1 L155.5,453.9 M149.7,453.9 L155.5,448.1" stroke="#000" stroke-width="1.6" fill="none"/>
<path d="M174.6,473.1 L180.4,478.9 M174.6,478.9 L180.4,473.1" stroke="#000" stroke-width="1.6" fill="none"/>
<path d="M200.9,481.1 L206.7,486.9 M200.9,486.9 L206.7,481.1" stroke="#000" stroke-width="1.6" fill="none"/>
<polyline points="101.5,470.0 102.5,478.0 104.0,487.0 114.0,509.0" fill="none" stroke="#000" stroke-width="1.4" stroke-dasharray="4 2" stroke-linejoin="round"/>
<path d="M101.5,467.4 L104.1,470.0 L101.5,472.6 L98.9,470.0 Z" fill="#fff" stroke="#000" stroke-width="1.3"/>
<path d="M102.5,475.4 L105.1,478.0 L102.5,480.6 L99.9,478.0 Z" fill="#fff" stroke="#000" stroke-width="1.3"/>
<path d="M104.0,484.4 L106.6,487.0 L104.0,489.6 L101.4,487.0 Z" fill="#fff" stroke="#000" stroke-width="1.3"/>
<path d="M114,506.4 l2.6,2.6 l-2.6,2.6 l-2.6,-2.6 Z" fill="#555" stroke="#222" stroke-width="0.8"/>
<path d="M155.0,475.1 L157.4,477.5 L155.0,479.9 L152.6,477.5 Z" fill="#fff" stroke="#000" stroke-width="0.9"/>
<path d="M155.0,482.6 L157.4,485.0 L155.0,487.4 L152.6,485.0 Z" fill="#fff" stroke="#000" stroke-width="0.9"/>
<line x1="152.60" y1="413.00" x2="152.60" y2="446.00" stroke="#000" stroke-width="1.5" stroke-linecap="butt"/>
<line x1="152.60" y1="446.00" x2="152.60" y2="498.00" stroke="#000" stroke-width="2.2" stroke-linecap="butt"/>
<rect x="99.4" y="492.4" width="5.2" height="5.2" fill="#fff" stroke="#222" stroke-width="1"/>
<rect x="99.4" y="492.4" width="3.1" height="5.2" fill="#222"/>
<rect x="254.6" y="435.1" width="4.8" height="4.8" fill="#fff" stroke="#666" stroke-width="1"/>
<rect x="100.6" y="483.6" width="4.8" height="4.8" fill="#fff" stroke="#444" stroke-width="1"/>
<circle cx="102.7" cy="384.0" r="2.3" fill="#000"/>
<circle cx="102.7" cy="389.0" r="2.3" fill="#000"/>
<circle cx="102.7" cy="394.0" r="2.3" fill="#000"/>
<circle cx="102.7" cy="399.0" r="2.3" fill="#000"/>
<circle cx="102.7" cy="404.0" r="2.3" fill="#000"/>
<circle cx="102.7" cy="409.0" r="2.3" fill="#000"/>
<circle cx="102.7" cy="414.0" r="2.3" fill="#000"/>
<circle cx="102.7" cy="419.0" r="2.3" fill="#000"/>
<circle cx="102.7" cy="424.0" r="2.3" fill="#000"/>
<circle cx="102.7" cy="429.0" r="2.3" fill="#000"/>
<circle cx="102.7" cy="434.0" r="2.3" fill="#000"/>
<circle cx="102.7" cy="439.0" r="2.3" fill="#000"/>
<circle cx="102.7" cy="444.0" r="2.3" fill="#000"/>
<circle cx="102.7" cy="449.0" r="2.3" fill="#000"/>
<circle cx="102.7" cy="454.0" r="2.3" fill="#000"/>
<circle cx="102.7" cy="459.0" r="2.3" fill="#000"/>
<circle cx="102.7" cy="464.0" r="2.3" fill="#000"/>
<circle cx="102.7" cy="469.0" r="2.3" fill="#000"/>
<circle cx="102.7" cy="474.0" r="2.3" fill="#000"/>
<circle cx="102.7" cy="479.0" r="2.3" fill="#000"/>
<circle cx="102.7" cy="484.0" r="2.3" fill="#000"/>
<circle cx="102.7" cy="489.0" r="2.3" fill="#000"/>
<circle cx="102.7" cy="494.0" r="2.3" fill="#000"/>
<circle cx="102.7" cy="499.0" r="2.3" fill="#000"/>
<text x="466.8" y="396.7" font-size="7.95"  text-anchor="start" fill="#000" >3 mg/kg</text>
<text x="466.8" y="410.9" font-size="7.95"  text-anchor="start" fill="#000" >1 mg/kg</text>
<text x="466.8" y="425.4" font-size="7.95"  text-anchor="start" fill="#000" >0.3 mg/kg</text>
<text x="466.8" y="439.9" font-size="7.95"  text-anchor="start" fill="#000" >0.0075 mg/kg</text>
<text x="466.8" y="454.09999999999997" font-size="7.95"  text-anchor="start" fill="#000" >0.015 mg/kg</text>
<text x="466.8" y="467.9" font-size="7.95"  text-anchor="start" fill="#000" >0.003 mg/kg</text>
<text x="466.8" y="482.4" font-size="7.95"  text-anchor="start" fill="#000" >0.0003 mg/kg</text>
<line x1="445.80" y1="393.80" x2="459.30" y2="393.80" stroke="#000" stroke-width="1.6" stroke-linecap="butt"/>
<circle cx="452.6" cy="393.8" r="2.5" fill="#000"/>
<line x1="445.80" y1="408.00" x2="449.60" y2="408.00" stroke="#111" stroke-width="1.5" stroke-linecap="butt"/>
<line x1="457.60" y1="408.00" x2="459.10" y2="408.00" stroke="#111" stroke-width="1.5" stroke-linecap="butt"/>
<rect x="450.2" y="405.6" width="4.8" height="4.8" fill="#fff" stroke="#333" stroke-width="1"/>
<line x1="445.80" y1="422.50" x2="448.60" y2="422.50" stroke="#000" stroke-width="2.0" stroke-linecap="butt"/>
<line x1="456.60" y1="422.50" x2="459.40" y2="422.50" stroke="#000" stroke-width="2.0" stroke-linecap="butt"/>
<path d="M452.6,424.6 L454.7,420.8 L450.5,420.8 Z" fill="#000" stroke="#000" stroke-width="0.8"/>
<line x1="445.80" y1="437.00" x2="448.60" y2="437.00" stroke="#000" stroke-width="1.6" stroke-linecap="butt"/>
<line x1="457.60" y1="437.00" x2="459.10" y2="437.00" stroke="#000" stroke-width="1.6" stroke-linecap="butt"/>
<path d="M452.6,435.0 L454.6,438.6 L450.6,438.6 Z" fill="#000" stroke="#000" stroke-width="0.9"/>
<line x1="445.80" y1="451.20" x2="459.30" y2="451.20" stroke="#000" stroke-width="2.2" stroke-linecap="butt"/>
<path d="M450.1,448.7 L455.1,453.7 M450.1,453.7 L455.1,448.7" stroke="#000" stroke-width="1.5" fill="none"/>
<line x1="446.10" y1="465.00" x2="447.60" y2="465.00" stroke="#000" stroke-width="1.4" stroke-linecap="butt"/>
<line x1="456.10" y1="465.00" x2="459.40" y2="465.00" stroke="#000" stroke-width="1.4" stroke-linecap="butt"/>
<path d="M452.6,462.3 L455.3,465.0 L452.6,467.7 L449.9,465.0 Z" fill="#fff" stroke="#000" stroke-width="1.3"/>
<line x1="445.80" y1="479.50" x2="459.30" y2="479.50" stroke="#888" stroke-width="0.8" stroke-linecap="butt"/>
<rect x="450.1" y="477.0" width="5.0" height="5.0" fill="#fff" stroke="#111" stroke-width="1"/>
<rect x="450.1" y="477.0" width="3.0" height="5.0" fill="#111"/>
</svg>
</body></html>
